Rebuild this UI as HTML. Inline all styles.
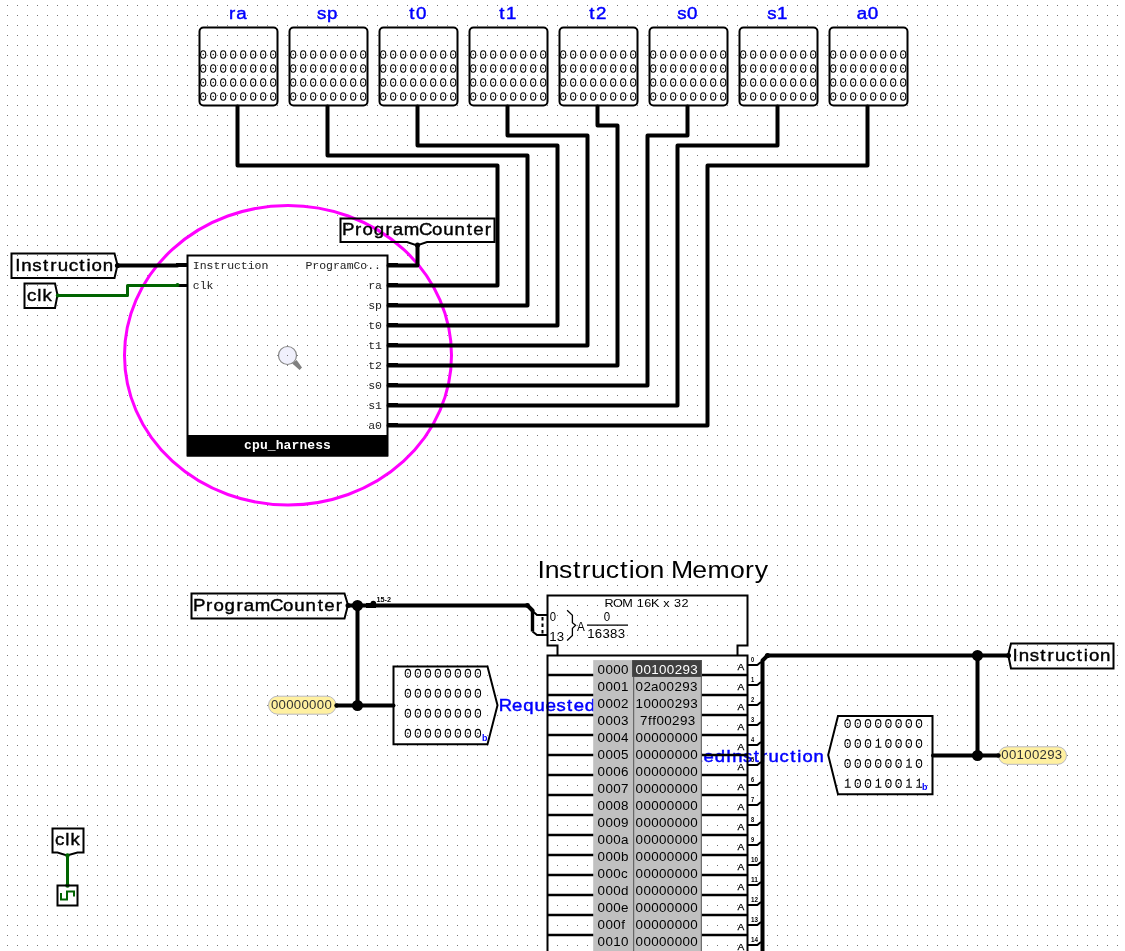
<!DOCTYPE html>
<html><head><meta charset="utf-8"><style>html,body{margin:0;padding:0;background:#fff;overflow:hidden;width:1125px;height:951px}</style></head>
<body><svg width="1125" height="951" viewBox="0 0 1125 951" style="display:block;will-change:transform">
<defs><pattern id="grid" x="7" y="5" width="10" height="10" patternUnits="userSpaceOnUse"><rect x="0" y="0" width="1" height="1" fill="#777"/></pattern></defs>
<rect width="1125" height="951" fill="#fff"/>
<rect width="1125" height="951" fill="url(#grid)"/>
<ellipse cx="288" cy="355.25" rx="163.5" ry="149.75" fill="none" stroke="#ff00ff" stroke-width="3"/>
<rect x="199.5" y="27.5" width="78" height="78" rx="4" ry="4" fill="none" stroke="#000" stroke-width="2"/>
<text transform="scale(1.1000,1)" x="208.17 214.77" y="19" font-family="'Liberation Sans', sans-serif" font-size="17" font-weight="normal" fill="#0000ff" stroke="#0000ff" stroke-width="0.45">ra</text>
<ellipse cx="203.2" cy="54.5" rx="2.6" ry="3.7" fill="none" stroke="#000" stroke-width="1.1"/>
<rect x="202.60" y="53.90" width="1.2" height="1.2" fill="#000"/>
<ellipse cx="213.2" cy="54.5" rx="2.6" ry="3.7" fill="none" stroke="#000" stroke-width="1.1"/>
<rect x="212.60" y="53.90" width="1.2" height="1.2" fill="#000"/>
<ellipse cx="223.2" cy="54.5" rx="2.6" ry="3.7" fill="none" stroke="#000" stroke-width="1.1"/>
<rect x="222.60" y="53.90" width="1.2" height="1.2" fill="#000"/>
<ellipse cx="233.2" cy="54.5" rx="2.6" ry="3.7" fill="none" stroke="#000" stroke-width="1.1"/>
<rect x="232.60" y="53.90" width="1.2" height="1.2" fill="#000"/>
<ellipse cx="243.2" cy="54.5" rx="2.6" ry="3.7" fill="none" stroke="#000" stroke-width="1.1"/>
<rect x="242.60" y="53.90" width="1.2" height="1.2" fill="#000"/>
<ellipse cx="253.2" cy="54.5" rx="2.6" ry="3.7" fill="none" stroke="#000" stroke-width="1.1"/>
<rect x="252.60" y="53.90" width="1.2" height="1.2" fill="#000"/>
<ellipse cx="263.2" cy="54.5" rx="2.6" ry="3.7" fill="none" stroke="#000" stroke-width="1.1"/>
<rect x="262.60" y="53.90" width="1.2" height="1.2" fill="#000"/>
<ellipse cx="273.2" cy="54.5" rx="2.6" ry="3.7" fill="none" stroke="#000" stroke-width="1.1"/>
<rect x="272.60" y="53.90" width="1.2" height="1.2" fill="#000"/>
<ellipse cx="203.2" cy="68.5" rx="2.6" ry="3.7" fill="none" stroke="#000" stroke-width="1.1"/>
<rect x="202.60" y="67.90" width="1.2" height="1.2" fill="#000"/>
<ellipse cx="213.2" cy="68.5" rx="2.6" ry="3.7" fill="none" stroke="#000" stroke-width="1.1"/>
<rect x="212.60" y="67.90" width="1.2" height="1.2" fill="#000"/>
<ellipse cx="223.2" cy="68.5" rx="2.6" ry="3.7" fill="none" stroke="#000" stroke-width="1.1"/>
<rect x="222.60" y="67.90" width="1.2" height="1.2" fill="#000"/>
<ellipse cx="233.2" cy="68.5" rx="2.6" ry="3.7" fill="none" stroke="#000" stroke-width="1.1"/>
<rect x="232.60" y="67.90" width="1.2" height="1.2" fill="#000"/>
<ellipse cx="243.2" cy="68.5" rx="2.6" ry="3.7" fill="none" stroke="#000" stroke-width="1.1"/>
<rect x="242.60" y="67.90" width="1.2" height="1.2" fill="#000"/>
<ellipse cx="253.2" cy="68.5" rx="2.6" ry="3.7" fill="none" stroke="#000" stroke-width="1.1"/>
<rect x="252.60" y="67.90" width="1.2" height="1.2" fill="#000"/>
<ellipse cx="263.2" cy="68.5" rx="2.6" ry="3.7" fill="none" stroke="#000" stroke-width="1.1"/>
<rect x="262.60" y="67.90" width="1.2" height="1.2" fill="#000"/>
<ellipse cx="273.2" cy="68.5" rx="2.6" ry="3.7" fill="none" stroke="#000" stroke-width="1.1"/>
<rect x="272.60" y="67.90" width="1.2" height="1.2" fill="#000"/>
<ellipse cx="203.2" cy="82.5" rx="2.6" ry="3.7" fill="none" stroke="#000" stroke-width="1.1"/>
<rect x="202.60" y="81.90" width="1.2" height="1.2" fill="#000"/>
<ellipse cx="213.2" cy="82.5" rx="2.6" ry="3.7" fill="none" stroke="#000" stroke-width="1.1"/>
<rect x="212.60" y="81.90" width="1.2" height="1.2" fill="#000"/>
<ellipse cx="223.2" cy="82.5" rx="2.6" ry="3.7" fill="none" stroke="#000" stroke-width="1.1"/>
<rect x="222.60" y="81.90" width="1.2" height="1.2" fill="#000"/>
<ellipse cx="233.2" cy="82.5" rx="2.6" ry="3.7" fill="none" stroke="#000" stroke-width="1.1"/>
<rect x="232.60" y="81.90" width="1.2" height="1.2" fill="#000"/>
<ellipse cx="243.2" cy="82.5" rx="2.6" ry="3.7" fill="none" stroke="#000" stroke-width="1.1"/>
<rect x="242.60" y="81.90" width="1.2" height="1.2" fill="#000"/>
<ellipse cx="253.2" cy="82.5" rx="2.6" ry="3.7" fill="none" stroke="#000" stroke-width="1.1"/>
<rect x="252.60" y="81.90" width="1.2" height="1.2" fill="#000"/>
<ellipse cx="263.2" cy="82.5" rx="2.6" ry="3.7" fill="none" stroke="#000" stroke-width="1.1"/>
<rect x="262.60" y="81.90" width="1.2" height="1.2" fill="#000"/>
<ellipse cx="273.2" cy="82.5" rx="2.6" ry="3.7" fill="none" stroke="#000" stroke-width="1.1"/>
<rect x="272.60" y="81.90" width="1.2" height="1.2" fill="#000"/>
<ellipse cx="203.2" cy="96.5" rx="2.6" ry="3.7" fill="none" stroke="#000" stroke-width="1.1"/>
<rect x="202.60" y="95.90" width="1.2" height="1.2" fill="#000"/>
<ellipse cx="213.2" cy="96.5" rx="2.6" ry="3.7" fill="none" stroke="#000" stroke-width="1.1"/>
<rect x="212.60" y="95.90" width="1.2" height="1.2" fill="#000"/>
<ellipse cx="223.2" cy="96.5" rx="2.6" ry="3.7" fill="none" stroke="#000" stroke-width="1.1"/>
<rect x="222.60" y="95.90" width="1.2" height="1.2" fill="#000"/>
<ellipse cx="233.2" cy="96.5" rx="2.6" ry="3.7" fill="none" stroke="#000" stroke-width="1.1"/>
<rect x="232.60" y="95.90" width="1.2" height="1.2" fill="#000"/>
<ellipse cx="243.2" cy="96.5" rx="2.6" ry="3.7" fill="none" stroke="#000" stroke-width="1.1"/>
<rect x="242.60" y="95.90" width="1.2" height="1.2" fill="#000"/>
<ellipse cx="253.2" cy="96.5" rx="2.6" ry="3.7" fill="none" stroke="#000" stroke-width="1.1"/>
<rect x="252.60" y="95.90" width="1.2" height="1.2" fill="#000"/>
<ellipse cx="263.2" cy="96.5" rx="2.6" ry="3.7" fill="none" stroke="#000" stroke-width="1.1"/>
<rect x="262.60" y="95.90" width="1.2" height="1.2" fill="#000"/>
<ellipse cx="273.2" cy="96.5" rx="2.6" ry="3.7" fill="none" stroke="#000" stroke-width="1.1"/>
<rect x="272.60" y="95.90" width="1.2" height="1.2" fill="#000"/>
<rect x="289.5" y="27.5" width="78" height="78" rx="4" ry="4" fill="none" stroke="#000" stroke-width="2"/>
<text transform="scale(1.1000,1)" x="288.27 297.33" y="19" font-family="'Liberation Sans', sans-serif" font-size="17" font-weight="normal" fill="#0000ff" stroke="#0000ff" stroke-width="0.45">sp</text>
<ellipse cx="293.2" cy="54.5" rx="2.6" ry="3.7" fill="none" stroke="#000" stroke-width="1.1"/>
<rect x="292.60" y="53.90" width="1.2" height="1.2" fill="#000"/>
<ellipse cx="303.2" cy="54.5" rx="2.6" ry="3.7" fill="none" stroke="#000" stroke-width="1.1"/>
<rect x="302.60" y="53.90" width="1.2" height="1.2" fill="#000"/>
<ellipse cx="313.2" cy="54.5" rx="2.6" ry="3.7" fill="none" stroke="#000" stroke-width="1.1"/>
<rect x="312.60" y="53.90" width="1.2" height="1.2" fill="#000"/>
<ellipse cx="323.2" cy="54.5" rx="2.6" ry="3.7" fill="none" stroke="#000" stroke-width="1.1"/>
<rect x="322.60" y="53.90" width="1.2" height="1.2" fill="#000"/>
<ellipse cx="333.2" cy="54.5" rx="2.6" ry="3.7" fill="none" stroke="#000" stroke-width="1.1"/>
<rect x="332.60" y="53.90" width="1.2" height="1.2" fill="#000"/>
<ellipse cx="343.2" cy="54.5" rx="2.6" ry="3.7" fill="none" stroke="#000" stroke-width="1.1"/>
<rect x="342.60" y="53.90" width="1.2" height="1.2" fill="#000"/>
<ellipse cx="353.2" cy="54.5" rx="2.6" ry="3.7" fill="none" stroke="#000" stroke-width="1.1"/>
<rect x="352.60" y="53.90" width="1.2" height="1.2" fill="#000"/>
<ellipse cx="363.2" cy="54.5" rx="2.6" ry="3.7" fill="none" stroke="#000" stroke-width="1.1"/>
<rect x="362.60" y="53.90" width="1.2" height="1.2" fill="#000"/>
<ellipse cx="293.2" cy="68.5" rx="2.6" ry="3.7" fill="none" stroke="#000" stroke-width="1.1"/>
<rect x="292.60" y="67.90" width="1.2" height="1.2" fill="#000"/>
<ellipse cx="303.2" cy="68.5" rx="2.6" ry="3.7" fill="none" stroke="#000" stroke-width="1.1"/>
<rect x="302.60" y="67.90" width="1.2" height="1.2" fill="#000"/>
<ellipse cx="313.2" cy="68.5" rx="2.6" ry="3.7" fill="none" stroke="#000" stroke-width="1.1"/>
<rect x="312.60" y="67.90" width="1.2" height="1.2" fill="#000"/>
<ellipse cx="323.2" cy="68.5" rx="2.6" ry="3.7" fill="none" stroke="#000" stroke-width="1.1"/>
<rect x="322.60" y="67.90" width="1.2" height="1.2" fill="#000"/>
<ellipse cx="333.2" cy="68.5" rx="2.6" ry="3.7" fill="none" stroke="#000" stroke-width="1.1"/>
<rect x="332.60" y="67.90" width="1.2" height="1.2" fill="#000"/>
<ellipse cx="343.2" cy="68.5" rx="2.6" ry="3.7" fill="none" stroke="#000" stroke-width="1.1"/>
<rect x="342.60" y="67.90" width="1.2" height="1.2" fill="#000"/>
<ellipse cx="353.2" cy="68.5" rx="2.6" ry="3.7" fill="none" stroke="#000" stroke-width="1.1"/>
<rect x="352.60" y="67.90" width="1.2" height="1.2" fill="#000"/>
<ellipse cx="363.2" cy="68.5" rx="2.6" ry="3.7" fill="none" stroke="#000" stroke-width="1.1"/>
<rect x="362.60" y="67.90" width="1.2" height="1.2" fill="#000"/>
<ellipse cx="293.2" cy="82.5" rx="2.6" ry="3.7" fill="none" stroke="#000" stroke-width="1.1"/>
<rect x="292.60" y="81.90" width="1.2" height="1.2" fill="#000"/>
<ellipse cx="303.2" cy="82.5" rx="2.6" ry="3.7" fill="none" stroke="#000" stroke-width="1.1"/>
<rect x="302.60" y="81.90" width="1.2" height="1.2" fill="#000"/>
<ellipse cx="313.2" cy="82.5" rx="2.6" ry="3.7" fill="none" stroke="#000" stroke-width="1.1"/>
<rect x="312.60" y="81.90" width="1.2" height="1.2" fill="#000"/>
<ellipse cx="323.2" cy="82.5" rx="2.6" ry="3.7" fill="none" stroke="#000" stroke-width="1.1"/>
<rect x="322.60" y="81.90" width="1.2" height="1.2" fill="#000"/>
<ellipse cx="333.2" cy="82.5" rx="2.6" ry="3.7" fill="none" stroke="#000" stroke-width="1.1"/>
<rect x="332.60" y="81.90" width="1.2" height="1.2" fill="#000"/>
<ellipse cx="343.2" cy="82.5" rx="2.6" ry="3.7" fill="none" stroke="#000" stroke-width="1.1"/>
<rect x="342.60" y="81.90" width="1.2" height="1.2" fill="#000"/>
<ellipse cx="353.2" cy="82.5" rx="2.6" ry="3.7" fill="none" stroke="#000" stroke-width="1.1"/>
<rect x="352.60" y="81.90" width="1.2" height="1.2" fill="#000"/>
<ellipse cx="363.2" cy="82.5" rx="2.6" ry="3.7" fill="none" stroke="#000" stroke-width="1.1"/>
<rect x="362.60" y="81.90" width="1.2" height="1.2" fill="#000"/>
<ellipse cx="293.2" cy="96.5" rx="2.6" ry="3.7" fill="none" stroke="#000" stroke-width="1.1"/>
<rect x="292.60" y="95.90" width="1.2" height="1.2" fill="#000"/>
<ellipse cx="303.2" cy="96.5" rx="2.6" ry="3.7" fill="none" stroke="#000" stroke-width="1.1"/>
<rect x="302.60" y="95.90" width="1.2" height="1.2" fill="#000"/>
<ellipse cx="313.2" cy="96.5" rx="2.6" ry="3.7" fill="none" stroke="#000" stroke-width="1.1"/>
<rect x="312.60" y="95.90" width="1.2" height="1.2" fill="#000"/>
<ellipse cx="323.2" cy="96.5" rx="2.6" ry="3.7" fill="none" stroke="#000" stroke-width="1.1"/>
<rect x="322.60" y="95.90" width="1.2" height="1.2" fill="#000"/>
<ellipse cx="333.2" cy="96.5" rx="2.6" ry="3.7" fill="none" stroke="#000" stroke-width="1.1"/>
<rect x="332.60" y="95.90" width="1.2" height="1.2" fill="#000"/>
<ellipse cx="343.2" cy="96.5" rx="2.6" ry="3.7" fill="none" stroke="#000" stroke-width="1.1"/>
<rect x="342.60" y="95.90" width="1.2" height="1.2" fill="#000"/>
<ellipse cx="353.2" cy="96.5" rx="2.6" ry="3.7" fill="none" stroke="#000" stroke-width="1.1"/>
<rect x="352.60" y="95.90" width="1.2" height="1.2" fill="#000"/>
<ellipse cx="363.2" cy="96.5" rx="2.6" ry="3.7" fill="none" stroke="#000" stroke-width="1.1"/>
<rect x="362.60" y="95.90" width="1.2" height="1.2" fill="#000"/>
<rect x="379.5" y="27.5" width="78" height="78" rx="4" ry="4" fill="none" stroke="#000" stroke-width="2"/>
<text transform="scale(1.1000,1)" x="372.12 378.29" y="19" font-family="'Liberation Sans', sans-serif" font-size="17" font-weight="normal" fill="#0000ff" stroke="#0000ff" stroke-width="0.45">t0</text>
<ellipse cx="383.2" cy="54.5" rx="2.6" ry="3.7" fill="none" stroke="#000" stroke-width="1.1"/>
<rect x="382.60" y="53.90" width="1.2" height="1.2" fill="#000"/>
<ellipse cx="393.2" cy="54.5" rx="2.6" ry="3.7" fill="none" stroke="#000" stroke-width="1.1"/>
<rect x="392.60" y="53.90" width="1.2" height="1.2" fill="#000"/>
<ellipse cx="403.2" cy="54.5" rx="2.6" ry="3.7" fill="none" stroke="#000" stroke-width="1.1"/>
<rect x="402.60" y="53.90" width="1.2" height="1.2" fill="#000"/>
<ellipse cx="413.2" cy="54.5" rx="2.6" ry="3.7" fill="none" stroke="#000" stroke-width="1.1"/>
<rect x="412.60" y="53.90" width="1.2" height="1.2" fill="#000"/>
<ellipse cx="423.2" cy="54.5" rx="2.6" ry="3.7" fill="none" stroke="#000" stroke-width="1.1"/>
<rect x="422.60" y="53.90" width="1.2" height="1.2" fill="#000"/>
<ellipse cx="433.2" cy="54.5" rx="2.6" ry="3.7" fill="none" stroke="#000" stroke-width="1.1"/>
<rect x="432.60" y="53.90" width="1.2" height="1.2" fill="#000"/>
<ellipse cx="443.2" cy="54.5" rx="2.6" ry="3.7" fill="none" stroke="#000" stroke-width="1.1"/>
<rect x="442.60" y="53.90" width="1.2" height="1.2" fill="#000"/>
<ellipse cx="453.2" cy="54.5" rx="2.6" ry="3.7" fill="none" stroke="#000" stroke-width="1.1"/>
<rect x="452.60" y="53.90" width="1.2" height="1.2" fill="#000"/>
<ellipse cx="383.2" cy="68.5" rx="2.6" ry="3.7" fill="none" stroke="#000" stroke-width="1.1"/>
<rect x="382.60" y="67.90" width="1.2" height="1.2" fill="#000"/>
<ellipse cx="393.2" cy="68.5" rx="2.6" ry="3.7" fill="none" stroke="#000" stroke-width="1.1"/>
<rect x="392.60" y="67.90" width="1.2" height="1.2" fill="#000"/>
<ellipse cx="403.2" cy="68.5" rx="2.6" ry="3.7" fill="none" stroke="#000" stroke-width="1.1"/>
<rect x="402.60" y="67.90" width="1.2" height="1.2" fill="#000"/>
<ellipse cx="413.2" cy="68.5" rx="2.6" ry="3.7" fill="none" stroke="#000" stroke-width="1.1"/>
<rect x="412.60" y="67.90" width="1.2" height="1.2" fill="#000"/>
<ellipse cx="423.2" cy="68.5" rx="2.6" ry="3.7" fill="none" stroke="#000" stroke-width="1.1"/>
<rect x="422.60" y="67.90" width="1.2" height="1.2" fill="#000"/>
<ellipse cx="433.2" cy="68.5" rx="2.6" ry="3.7" fill="none" stroke="#000" stroke-width="1.1"/>
<rect x="432.60" y="67.90" width="1.2" height="1.2" fill="#000"/>
<ellipse cx="443.2" cy="68.5" rx="2.6" ry="3.7" fill="none" stroke="#000" stroke-width="1.1"/>
<rect x="442.60" y="67.90" width="1.2" height="1.2" fill="#000"/>
<ellipse cx="453.2" cy="68.5" rx="2.6" ry="3.7" fill="none" stroke="#000" stroke-width="1.1"/>
<rect x="452.60" y="67.90" width="1.2" height="1.2" fill="#000"/>
<ellipse cx="383.2" cy="82.5" rx="2.6" ry="3.7" fill="none" stroke="#000" stroke-width="1.1"/>
<rect x="382.60" y="81.90" width="1.2" height="1.2" fill="#000"/>
<ellipse cx="393.2" cy="82.5" rx="2.6" ry="3.7" fill="none" stroke="#000" stroke-width="1.1"/>
<rect x="392.60" y="81.90" width="1.2" height="1.2" fill="#000"/>
<ellipse cx="403.2" cy="82.5" rx="2.6" ry="3.7" fill="none" stroke="#000" stroke-width="1.1"/>
<rect x="402.60" y="81.90" width="1.2" height="1.2" fill="#000"/>
<ellipse cx="413.2" cy="82.5" rx="2.6" ry="3.7" fill="none" stroke="#000" stroke-width="1.1"/>
<rect x="412.60" y="81.90" width="1.2" height="1.2" fill="#000"/>
<ellipse cx="423.2" cy="82.5" rx="2.6" ry="3.7" fill="none" stroke="#000" stroke-width="1.1"/>
<rect x="422.60" y="81.90" width="1.2" height="1.2" fill="#000"/>
<ellipse cx="433.2" cy="82.5" rx="2.6" ry="3.7" fill="none" stroke="#000" stroke-width="1.1"/>
<rect x="432.60" y="81.90" width="1.2" height="1.2" fill="#000"/>
<ellipse cx="443.2" cy="82.5" rx="2.6" ry="3.7" fill="none" stroke="#000" stroke-width="1.1"/>
<rect x="442.60" y="81.90" width="1.2" height="1.2" fill="#000"/>
<ellipse cx="453.2" cy="82.5" rx="2.6" ry="3.7" fill="none" stroke="#000" stroke-width="1.1"/>
<rect x="452.60" y="81.90" width="1.2" height="1.2" fill="#000"/>
<ellipse cx="383.2" cy="96.5" rx="2.6" ry="3.7" fill="none" stroke="#000" stroke-width="1.1"/>
<rect x="382.60" y="95.90" width="1.2" height="1.2" fill="#000"/>
<ellipse cx="393.2" cy="96.5" rx="2.6" ry="3.7" fill="none" stroke="#000" stroke-width="1.1"/>
<rect x="392.60" y="95.90" width="1.2" height="1.2" fill="#000"/>
<ellipse cx="403.2" cy="96.5" rx="2.6" ry="3.7" fill="none" stroke="#000" stroke-width="1.1"/>
<rect x="402.60" y="95.90" width="1.2" height="1.2" fill="#000"/>
<ellipse cx="413.2" cy="96.5" rx="2.6" ry="3.7" fill="none" stroke="#000" stroke-width="1.1"/>
<rect x="412.60" y="95.90" width="1.2" height="1.2" fill="#000"/>
<ellipse cx="423.2" cy="96.5" rx="2.6" ry="3.7" fill="none" stroke="#000" stroke-width="1.1"/>
<rect x="422.60" y="95.90" width="1.2" height="1.2" fill="#000"/>
<ellipse cx="433.2" cy="96.5" rx="2.6" ry="3.7" fill="none" stroke="#000" stroke-width="1.1"/>
<rect x="432.60" y="95.90" width="1.2" height="1.2" fill="#000"/>
<ellipse cx="443.2" cy="96.5" rx="2.6" ry="3.7" fill="none" stroke="#000" stroke-width="1.1"/>
<rect x="442.60" y="95.90" width="1.2" height="1.2" fill="#000"/>
<ellipse cx="453.2" cy="96.5" rx="2.6" ry="3.7" fill="none" stroke="#000" stroke-width="1.1"/>
<rect x="452.60" y="95.90" width="1.2" height="1.2" fill="#000"/>
<rect x="469.5" y="27.5" width="78" height="78" rx="4" ry="4" fill="none" stroke="#000" stroke-width="2"/>
<text transform="scale(1.1000,1)" x="453.94 460.11" y="19" font-family="'Liberation Sans', sans-serif" font-size="17" font-weight="normal" fill="#0000ff" stroke="#0000ff" stroke-width="0.45">t1</text>
<ellipse cx="473.2" cy="54.5" rx="2.6" ry="3.7" fill="none" stroke="#000" stroke-width="1.1"/>
<rect x="472.60" y="53.90" width="1.2" height="1.2" fill="#000"/>
<ellipse cx="483.2" cy="54.5" rx="2.6" ry="3.7" fill="none" stroke="#000" stroke-width="1.1"/>
<rect x="482.60" y="53.90" width="1.2" height="1.2" fill="#000"/>
<ellipse cx="493.2" cy="54.5" rx="2.6" ry="3.7" fill="none" stroke="#000" stroke-width="1.1"/>
<rect x="492.60" y="53.90" width="1.2" height="1.2" fill="#000"/>
<ellipse cx="503.2" cy="54.5" rx="2.6" ry="3.7" fill="none" stroke="#000" stroke-width="1.1"/>
<rect x="502.60" y="53.90" width="1.2" height="1.2" fill="#000"/>
<ellipse cx="513.2" cy="54.5" rx="2.6" ry="3.7" fill="none" stroke="#000" stroke-width="1.1"/>
<rect x="512.60" y="53.90" width="1.2" height="1.2" fill="#000"/>
<ellipse cx="523.2" cy="54.5" rx="2.6" ry="3.7" fill="none" stroke="#000" stroke-width="1.1"/>
<rect x="522.60" y="53.90" width="1.2" height="1.2" fill="#000"/>
<ellipse cx="533.2" cy="54.5" rx="2.6" ry="3.7" fill="none" stroke="#000" stroke-width="1.1"/>
<rect x="532.60" y="53.90" width="1.2" height="1.2" fill="#000"/>
<ellipse cx="543.2" cy="54.5" rx="2.6" ry="3.7" fill="none" stroke="#000" stroke-width="1.1"/>
<rect x="542.60" y="53.90" width="1.2" height="1.2" fill="#000"/>
<ellipse cx="473.2" cy="68.5" rx="2.6" ry="3.7" fill="none" stroke="#000" stroke-width="1.1"/>
<rect x="472.60" y="67.90" width="1.2" height="1.2" fill="#000"/>
<ellipse cx="483.2" cy="68.5" rx="2.6" ry="3.7" fill="none" stroke="#000" stroke-width="1.1"/>
<rect x="482.60" y="67.90" width="1.2" height="1.2" fill="#000"/>
<ellipse cx="493.2" cy="68.5" rx="2.6" ry="3.7" fill="none" stroke="#000" stroke-width="1.1"/>
<rect x="492.60" y="67.90" width="1.2" height="1.2" fill="#000"/>
<ellipse cx="503.2" cy="68.5" rx="2.6" ry="3.7" fill="none" stroke="#000" stroke-width="1.1"/>
<rect x="502.60" y="67.90" width="1.2" height="1.2" fill="#000"/>
<ellipse cx="513.2" cy="68.5" rx="2.6" ry="3.7" fill="none" stroke="#000" stroke-width="1.1"/>
<rect x="512.60" y="67.90" width="1.2" height="1.2" fill="#000"/>
<ellipse cx="523.2" cy="68.5" rx="2.6" ry="3.7" fill="none" stroke="#000" stroke-width="1.1"/>
<rect x="522.60" y="67.90" width="1.2" height="1.2" fill="#000"/>
<ellipse cx="533.2" cy="68.5" rx="2.6" ry="3.7" fill="none" stroke="#000" stroke-width="1.1"/>
<rect x="532.60" y="67.90" width="1.2" height="1.2" fill="#000"/>
<ellipse cx="543.2" cy="68.5" rx="2.6" ry="3.7" fill="none" stroke="#000" stroke-width="1.1"/>
<rect x="542.60" y="67.90" width="1.2" height="1.2" fill="#000"/>
<ellipse cx="473.2" cy="82.5" rx="2.6" ry="3.7" fill="none" stroke="#000" stroke-width="1.1"/>
<rect x="472.60" y="81.90" width="1.2" height="1.2" fill="#000"/>
<ellipse cx="483.2" cy="82.5" rx="2.6" ry="3.7" fill="none" stroke="#000" stroke-width="1.1"/>
<rect x="482.60" y="81.90" width="1.2" height="1.2" fill="#000"/>
<ellipse cx="493.2" cy="82.5" rx="2.6" ry="3.7" fill="none" stroke="#000" stroke-width="1.1"/>
<rect x="492.60" y="81.90" width="1.2" height="1.2" fill="#000"/>
<ellipse cx="503.2" cy="82.5" rx="2.6" ry="3.7" fill="none" stroke="#000" stroke-width="1.1"/>
<rect x="502.60" y="81.90" width="1.2" height="1.2" fill="#000"/>
<ellipse cx="513.2" cy="82.5" rx="2.6" ry="3.7" fill="none" stroke="#000" stroke-width="1.1"/>
<rect x="512.60" y="81.90" width="1.2" height="1.2" fill="#000"/>
<ellipse cx="523.2" cy="82.5" rx="2.6" ry="3.7" fill="none" stroke="#000" stroke-width="1.1"/>
<rect x="522.60" y="81.90" width="1.2" height="1.2" fill="#000"/>
<ellipse cx="533.2" cy="82.5" rx="2.6" ry="3.7" fill="none" stroke="#000" stroke-width="1.1"/>
<rect x="532.60" y="81.90" width="1.2" height="1.2" fill="#000"/>
<ellipse cx="543.2" cy="82.5" rx="2.6" ry="3.7" fill="none" stroke="#000" stroke-width="1.1"/>
<rect x="542.60" y="81.90" width="1.2" height="1.2" fill="#000"/>
<ellipse cx="473.2" cy="96.5" rx="2.6" ry="3.7" fill="none" stroke="#000" stroke-width="1.1"/>
<rect x="472.60" y="95.90" width="1.2" height="1.2" fill="#000"/>
<ellipse cx="483.2" cy="96.5" rx="2.6" ry="3.7" fill="none" stroke="#000" stroke-width="1.1"/>
<rect x="482.60" y="95.90" width="1.2" height="1.2" fill="#000"/>
<ellipse cx="493.2" cy="96.5" rx="2.6" ry="3.7" fill="none" stroke="#000" stroke-width="1.1"/>
<rect x="492.60" y="95.90" width="1.2" height="1.2" fill="#000"/>
<ellipse cx="503.2" cy="96.5" rx="2.6" ry="3.7" fill="none" stroke="#000" stroke-width="1.1"/>
<rect x="502.60" y="95.90" width="1.2" height="1.2" fill="#000"/>
<ellipse cx="513.2" cy="96.5" rx="2.6" ry="3.7" fill="none" stroke="#000" stroke-width="1.1"/>
<rect x="512.60" y="95.90" width="1.2" height="1.2" fill="#000"/>
<ellipse cx="523.2" cy="96.5" rx="2.6" ry="3.7" fill="none" stroke="#000" stroke-width="1.1"/>
<rect x="522.60" y="95.90" width="1.2" height="1.2" fill="#000"/>
<ellipse cx="533.2" cy="96.5" rx="2.6" ry="3.7" fill="none" stroke="#000" stroke-width="1.1"/>
<rect x="532.60" y="95.90" width="1.2" height="1.2" fill="#000"/>
<ellipse cx="543.2" cy="96.5" rx="2.6" ry="3.7" fill="none" stroke="#000" stroke-width="1.1"/>
<rect x="542.60" y="95.90" width="1.2" height="1.2" fill="#000"/>
<rect x="559.5" y="27.5" width="78" height="78" rx="4" ry="4" fill="none" stroke="#000" stroke-width="2"/>
<text transform="scale(1.1000,1)" x="535.76 541.93" y="19" font-family="'Liberation Sans', sans-serif" font-size="17" font-weight="normal" fill="#0000ff" stroke="#0000ff" stroke-width="0.45">t2</text>
<ellipse cx="563.2" cy="54.5" rx="2.6" ry="3.7" fill="none" stroke="#000" stroke-width="1.1"/>
<rect x="562.60" y="53.90" width="1.2" height="1.2" fill="#000"/>
<ellipse cx="573.2" cy="54.5" rx="2.6" ry="3.7" fill="none" stroke="#000" stroke-width="1.1"/>
<rect x="572.60" y="53.90" width="1.2" height="1.2" fill="#000"/>
<ellipse cx="583.2" cy="54.5" rx="2.6" ry="3.7" fill="none" stroke="#000" stroke-width="1.1"/>
<rect x="582.60" y="53.90" width="1.2" height="1.2" fill="#000"/>
<ellipse cx="593.2" cy="54.5" rx="2.6" ry="3.7" fill="none" stroke="#000" stroke-width="1.1"/>
<rect x="592.60" y="53.90" width="1.2" height="1.2" fill="#000"/>
<ellipse cx="603.2" cy="54.5" rx="2.6" ry="3.7" fill="none" stroke="#000" stroke-width="1.1"/>
<rect x="602.60" y="53.90" width="1.2" height="1.2" fill="#000"/>
<ellipse cx="613.2" cy="54.5" rx="2.6" ry="3.7" fill="none" stroke="#000" stroke-width="1.1"/>
<rect x="612.60" y="53.90" width="1.2" height="1.2" fill="#000"/>
<ellipse cx="623.2" cy="54.5" rx="2.6" ry="3.7" fill="none" stroke="#000" stroke-width="1.1"/>
<rect x="622.60" y="53.90" width="1.2" height="1.2" fill="#000"/>
<ellipse cx="633.2" cy="54.5" rx="2.6" ry="3.7" fill="none" stroke="#000" stroke-width="1.1"/>
<rect x="632.60" y="53.90" width="1.2" height="1.2" fill="#000"/>
<ellipse cx="563.2" cy="68.5" rx="2.6" ry="3.7" fill="none" stroke="#000" stroke-width="1.1"/>
<rect x="562.60" y="67.90" width="1.2" height="1.2" fill="#000"/>
<ellipse cx="573.2" cy="68.5" rx="2.6" ry="3.7" fill="none" stroke="#000" stroke-width="1.1"/>
<rect x="572.60" y="67.90" width="1.2" height="1.2" fill="#000"/>
<ellipse cx="583.2" cy="68.5" rx="2.6" ry="3.7" fill="none" stroke="#000" stroke-width="1.1"/>
<rect x="582.60" y="67.90" width="1.2" height="1.2" fill="#000"/>
<ellipse cx="593.2" cy="68.5" rx="2.6" ry="3.7" fill="none" stroke="#000" stroke-width="1.1"/>
<rect x="592.60" y="67.90" width="1.2" height="1.2" fill="#000"/>
<ellipse cx="603.2" cy="68.5" rx="2.6" ry="3.7" fill="none" stroke="#000" stroke-width="1.1"/>
<rect x="602.60" y="67.90" width="1.2" height="1.2" fill="#000"/>
<ellipse cx="613.2" cy="68.5" rx="2.6" ry="3.7" fill="none" stroke="#000" stroke-width="1.1"/>
<rect x="612.60" y="67.90" width="1.2" height="1.2" fill="#000"/>
<ellipse cx="623.2" cy="68.5" rx="2.6" ry="3.7" fill="none" stroke="#000" stroke-width="1.1"/>
<rect x="622.60" y="67.90" width="1.2" height="1.2" fill="#000"/>
<ellipse cx="633.2" cy="68.5" rx="2.6" ry="3.7" fill="none" stroke="#000" stroke-width="1.1"/>
<rect x="632.60" y="67.90" width="1.2" height="1.2" fill="#000"/>
<ellipse cx="563.2" cy="82.5" rx="2.6" ry="3.7" fill="none" stroke="#000" stroke-width="1.1"/>
<rect x="562.60" y="81.90" width="1.2" height="1.2" fill="#000"/>
<ellipse cx="573.2" cy="82.5" rx="2.6" ry="3.7" fill="none" stroke="#000" stroke-width="1.1"/>
<rect x="572.60" y="81.90" width="1.2" height="1.2" fill="#000"/>
<ellipse cx="583.2" cy="82.5" rx="2.6" ry="3.7" fill="none" stroke="#000" stroke-width="1.1"/>
<rect x="582.60" y="81.90" width="1.2" height="1.2" fill="#000"/>
<ellipse cx="593.2" cy="82.5" rx="2.6" ry="3.7" fill="none" stroke="#000" stroke-width="1.1"/>
<rect x="592.60" y="81.90" width="1.2" height="1.2" fill="#000"/>
<ellipse cx="603.2" cy="82.5" rx="2.6" ry="3.7" fill="none" stroke="#000" stroke-width="1.1"/>
<rect x="602.60" y="81.90" width="1.2" height="1.2" fill="#000"/>
<ellipse cx="613.2" cy="82.5" rx="2.6" ry="3.7" fill="none" stroke="#000" stroke-width="1.1"/>
<rect x="612.60" y="81.90" width="1.2" height="1.2" fill="#000"/>
<ellipse cx="623.2" cy="82.5" rx="2.6" ry="3.7" fill="none" stroke="#000" stroke-width="1.1"/>
<rect x="622.60" y="81.90" width="1.2" height="1.2" fill="#000"/>
<ellipse cx="633.2" cy="82.5" rx="2.6" ry="3.7" fill="none" stroke="#000" stroke-width="1.1"/>
<rect x="632.60" y="81.90" width="1.2" height="1.2" fill="#000"/>
<ellipse cx="563.2" cy="96.5" rx="2.6" ry="3.7" fill="none" stroke="#000" stroke-width="1.1"/>
<rect x="562.60" y="95.90" width="1.2" height="1.2" fill="#000"/>
<ellipse cx="573.2" cy="96.5" rx="2.6" ry="3.7" fill="none" stroke="#000" stroke-width="1.1"/>
<rect x="572.60" y="95.90" width="1.2" height="1.2" fill="#000"/>
<ellipse cx="583.2" cy="96.5" rx="2.6" ry="3.7" fill="none" stroke="#000" stroke-width="1.1"/>
<rect x="582.60" y="95.90" width="1.2" height="1.2" fill="#000"/>
<ellipse cx="593.2" cy="96.5" rx="2.6" ry="3.7" fill="none" stroke="#000" stroke-width="1.1"/>
<rect x="592.60" y="95.90" width="1.2" height="1.2" fill="#000"/>
<ellipse cx="603.2" cy="96.5" rx="2.6" ry="3.7" fill="none" stroke="#000" stroke-width="1.1"/>
<rect x="602.60" y="95.90" width="1.2" height="1.2" fill="#000"/>
<ellipse cx="613.2" cy="96.5" rx="2.6" ry="3.7" fill="none" stroke="#000" stroke-width="1.1"/>
<rect x="612.60" y="95.90" width="1.2" height="1.2" fill="#000"/>
<ellipse cx="623.2" cy="96.5" rx="2.6" ry="3.7" fill="none" stroke="#000" stroke-width="1.1"/>
<rect x="622.60" y="95.90" width="1.2" height="1.2" fill="#000"/>
<ellipse cx="633.2" cy="96.5" rx="2.6" ry="3.7" fill="none" stroke="#000" stroke-width="1.1"/>
<rect x="632.60" y="95.90" width="1.2" height="1.2" fill="#000"/>
<rect x="649.5" y="27.5" width="78" height="78" rx="4" ry="4" fill="none" stroke="#000" stroke-width="2"/>
<text transform="scale(1.1000,1)" x="615.69 624.6" y="19" font-family="'Liberation Sans', sans-serif" font-size="17" font-weight="normal" fill="#0000ff" stroke="#0000ff" stroke-width="0.45">s0</text>
<ellipse cx="653.2" cy="54.5" rx="2.6" ry="3.7" fill="none" stroke="#000" stroke-width="1.1"/>
<rect x="652.60" y="53.90" width="1.2" height="1.2" fill="#000"/>
<ellipse cx="663.2" cy="54.5" rx="2.6" ry="3.7" fill="none" stroke="#000" stroke-width="1.1"/>
<rect x="662.60" y="53.90" width="1.2" height="1.2" fill="#000"/>
<ellipse cx="673.2" cy="54.5" rx="2.6" ry="3.7" fill="none" stroke="#000" stroke-width="1.1"/>
<rect x="672.60" y="53.90" width="1.2" height="1.2" fill="#000"/>
<ellipse cx="683.2" cy="54.5" rx="2.6" ry="3.7" fill="none" stroke="#000" stroke-width="1.1"/>
<rect x="682.60" y="53.90" width="1.2" height="1.2" fill="#000"/>
<ellipse cx="693.2" cy="54.5" rx="2.6" ry="3.7" fill="none" stroke="#000" stroke-width="1.1"/>
<rect x="692.60" y="53.90" width="1.2" height="1.2" fill="#000"/>
<ellipse cx="703.2" cy="54.5" rx="2.6" ry="3.7" fill="none" stroke="#000" stroke-width="1.1"/>
<rect x="702.60" y="53.90" width="1.2" height="1.2" fill="#000"/>
<ellipse cx="713.2" cy="54.5" rx="2.6" ry="3.7" fill="none" stroke="#000" stroke-width="1.1"/>
<rect x="712.60" y="53.90" width="1.2" height="1.2" fill="#000"/>
<ellipse cx="723.2" cy="54.5" rx="2.6" ry="3.7" fill="none" stroke="#000" stroke-width="1.1"/>
<rect x="722.60" y="53.90" width="1.2" height="1.2" fill="#000"/>
<ellipse cx="653.2" cy="68.5" rx="2.6" ry="3.7" fill="none" stroke="#000" stroke-width="1.1"/>
<rect x="652.60" y="67.90" width="1.2" height="1.2" fill="#000"/>
<ellipse cx="663.2" cy="68.5" rx="2.6" ry="3.7" fill="none" stroke="#000" stroke-width="1.1"/>
<rect x="662.60" y="67.90" width="1.2" height="1.2" fill="#000"/>
<ellipse cx="673.2" cy="68.5" rx="2.6" ry="3.7" fill="none" stroke="#000" stroke-width="1.1"/>
<rect x="672.60" y="67.90" width="1.2" height="1.2" fill="#000"/>
<ellipse cx="683.2" cy="68.5" rx="2.6" ry="3.7" fill="none" stroke="#000" stroke-width="1.1"/>
<rect x="682.60" y="67.90" width="1.2" height="1.2" fill="#000"/>
<ellipse cx="693.2" cy="68.5" rx="2.6" ry="3.7" fill="none" stroke="#000" stroke-width="1.1"/>
<rect x="692.60" y="67.90" width="1.2" height="1.2" fill="#000"/>
<ellipse cx="703.2" cy="68.5" rx="2.6" ry="3.7" fill="none" stroke="#000" stroke-width="1.1"/>
<rect x="702.60" y="67.90" width="1.2" height="1.2" fill="#000"/>
<ellipse cx="713.2" cy="68.5" rx="2.6" ry="3.7" fill="none" stroke="#000" stroke-width="1.1"/>
<rect x="712.60" y="67.90" width="1.2" height="1.2" fill="#000"/>
<ellipse cx="723.2" cy="68.5" rx="2.6" ry="3.7" fill="none" stroke="#000" stroke-width="1.1"/>
<rect x="722.60" y="67.90" width="1.2" height="1.2" fill="#000"/>
<ellipse cx="653.2" cy="82.5" rx="2.6" ry="3.7" fill="none" stroke="#000" stroke-width="1.1"/>
<rect x="652.60" y="81.90" width="1.2" height="1.2" fill="#000"/>
<ellipse cx="663.2" cy="82.5" rx="2.6" ry="3.7" fill="none" stroke="#000" stroke-width="1.1"/>
<rect x="662.60" y="81.90" width="1.2" height="1.2" fill="#000"/>
<ellipse cx="673.2" cy="82.5" rx="2.6" ry="3.7" fill="none" stroke="#000" stroke-width="1.1"/>
<rect x="672.60" y="81.90" width="1.2" height="1.2" fill="#000"/>
<ellipse cx="683.2" cy="82.5" rx="2.6" ry="3.7" fill="none" stroke="#000" stroke-width="1.1"/>
<rect x="682.60" y="81.90" width="1.2" height="1.2" fill="#000"/>
<ellipse cx="693.2" cy="82.5" rx="2.6" ry="3.7" fill="none" stroke="#000" stroke-width="1.1"/>
<rect x="692.60" y="81.90" width="1.2" height="1.2" fill="#000"/>
<ellipse cx="703.2" cy="82.5" rx="2.6" ry="3.7" fill="none" stroke="#000" stroke-width="1.1"/>
<rect x="702.60" y="81.90" width="1.2" height="1.2" fill="#000"/>
<ellipse cx="713.2" cy="82.5" rx="2.6" ry="3.7" fill="none" stroke="#000" stroke-width="1.1"/>
<rect x="712.60" y="81.90" width="1.2" height="1.2" fill="#000"/>
<ellipse cx="723.2" cy="82.5" rx="2.6" ry="3.7" fill="none" stroke="#000" stroke-width="1.1"/>
<rect x="722.60" y="81.90" width="1.2" height="1.2" fill="#000"/>
<ellipse cx="653.2" cy="96.5" rx="2.6" ry="3.7" fill="none" stroke="#000" stroke-width="1.1"/>
<rect x="652.60" y="95.90" width="1.2" height="1.2" fill="#000"/>
<ellipse cx="663.2" cy="96.5" rx="2.6" ry="3.7" fill="none" stroke="#000" stroke-width="1.1"/>
<rect x="662.60" y="95.90" width="1.2" height="1.2" fill="#000"/>
<ellipse cx="673.2" cy="96.5" rx="2.6" ry="3.7" fill="none" stroke="#000" stroke-width="1.1"/>
<rect x="672.60" y="95.90" width="1.2" height="1.2" fill="#000"/>
<ellipse cx="683.2" cy="96.5" rx="2.6" ry="3.7" fill="none" stroke="#000" stroke-width="1.1"/>
<rect x="682.60" y="95.90" width="1.2" height="1.2" fill="#000"/>
<ellipse cx="693.2" cy="96.5" rx="2.6" ry="3.7" fill="none" stroke="#000" stroke-width="1.1"/>
<rect x="692.60" y="95.90" width="1.2" height="1.2" fill="#000"/>
<ellipse cx="703.2" cy="96.5" rx="2.6" ry="3.7" fill="none" stroke="#000" stroke-width="1.1"/>
<rect x="702.60" y="95.90" width="1.2" height="1.2" fill="#000"/>
<ellipse cx="713.2" cy="96.5" rx="2.6" ry="3.7" fill="none" stroke="#000" stroke-width="1.1"/>
<rect x="712.60" y="95.90" width="1.2" height="1.2" fill="#000"/>
<ellipse cx="723.2" cy="96.5" rx="2.6" ry="3.7" fill="none" stroke="#000" stroke-width="1.1"/>
<rect x="722.60" y="95.90" width="1.2" height="1.2" fill="#000"/>
<rect x="739.5" y="27.5" width="78" height="78" rx="4" ry="4" fill="none" stroke="#000" stroke-width="2"/>
<text transform="scale(1.1000,1)" x="697.51 706.42" y="19" font-family="'Liberation Sans', sans-serif" font-size="17" font-weight="normal" fill="#0000ff" stroke="#0000ff" stroke-width="0.45">s1</text>
<ellipse cx="743.2" cy="54.5" rx="2.6" ry="3.7" fill="none" stroke="#000" stroke-width="1.1"/>
<rect x="742.60" y="53.90" width="1.2" height="1.2" fill="#000"/>
<ellipse cx="753.2" cy="54.5" rx="2.6" ry="3.7" fill="none" stroke="#000" stroke-width="1.1"/>
<rect x="752.60" y="53.90" width="1.2" height="1.2" fill="#000"/>
<ellipse cx="763.2" cy="54.5" rx="2.6" ry="3.7" fill="none" stroke="#000" stroke-width="1.1"/>
<rect x="762.60" y="53.90" width="1.2" height="1.2" fill="#000"/>
<ellipse cx="773.2" cy="54.5" rx="2.6" ry="3.7" fill="none" stroke="#000" stroke-width="1.1"/>
<rect x="772.60" y="53.90" width="1.2" height="1.2" fill="#000"/>
<ellipse cx="783.2" cy="54.5" rx="2.6" ry="3.7" fill="none" stroke="#000" stroke-width="1.1"/>
<rect x="782.60" y="53.90" width="1.2" height="1.2" fill="#000"/>
<ellipse cx="793.2" cy="54.5" rx="2.6" ry="3.7" fill="none" stroke="#000" stroke-width="1.1"/>
<rect x="792.60" y="53.90" width="1.2" height="1.2" fill="#000"/>
<ellipse cx="803.2" cy="54.5" rx="2.6" ry="3.7" fill="none" stroke="#000" stroke-width="1.1"/>
<rect x="802.60" y="53.90" width="1.2" height="1.2" fill="#000"/>
<ellipse cx="813.2" cy="54.5" rx="2.6" ry="3.7" fill="none" stroke="#000" stroke-width="1.1"/>
<rect x="812.60" y="53.90" width="1.2" height="1.2" fill="#000"/>
<ellipse cx="743.2" cy="68.5" rx="2.6" ry="3.7" fill="none" stroke="#000" stroke-width="1.1"/>
<rect x="742.60" y="67.90" width="1.2" height="1.2" fill="#000"/>
<ellipse cx="753.2" cy="68.5" rx="2.6" ry="3.7" fill="none" stroke="#000" stroke-width="1.1"/>
<rect x="752.60" y="67.90" width="1.2" height="1.2" fill="#000"/>
<ellipse cx="763.2" cy="68.5" rx="2.6" ry="3.7" fill="none" stroke="#000" stroke-width="1.1"/>
<rect x="762.60" y="67.90" width="1.2" height="1.2" fill="#000"/>
<ellipse cx="773.2" cy="68.5" rx="2.6" ry="3.7" fill="none" stroke="#000" stroke-width="1.1"/>
<rect x="772.60" y="67.90" width="1.2" height="1.2" fill="#000"/>
<ellipse cx="783.2" cy="68.5" rx="2.6" ry="3.7" fill="none" stroke="#000" stroke-width="1.1"/>
<rect x="782.60" y="67.90" width="1.2" height="1.2" fill="#000"/>
<ellipse cx="793.2" cy="68.5" rx="2.6" ry="3.7" fill="none" stroke="#000" stroke-width="1.1"/>
<rect x="792.60" y="67.90" width="1.2" height="1.2" fill="#000"/>
<ellipse cx="803.2" cy="68.5" rx="2.6" ry="3.7" fill="none" stroke="#000" stroke-width="1.1"/>
<rect x="802.60" y="67.90" width="1.2" height="1.2" fill="#000"/>
<ellipse cx="813.2" cy="68.5" rx="2.6" ry="3.7" fill="none" stroke="#000" stroke-width="1.1"/>
<rect x="812.60" y="67.90" width="1.2" height="1.2" fill="#000"/>
<ellipse cx="743.2" cy="82.5" rx="2.6" ry="3.7" fill="none" stroke="#000" stroke-width="1.1"/>
<rect x="742.60" y="81.90" width="1.2" height="1.2" fill="#000"/>
<ellipse cx="753.2" cy="82.5" rx="2.6" ry="3.7" fill="none" stroke="#000" stroke-width="1.1"/>
<rect x="752.60" y="81.90" width="1.2" height="1.2" fill="#000"/>
<ellipse cx="763.2" cy="82.5" rx="2.6" ry="3.7" fill="none" stroke="#000" stroke-width="1.1"/>
<rect x="762.60" y="81.90" width="1.2" height="1.2" fill="#000"/>
<ellipse cx="773.2" cy="82.5" rx="2.6" ry="3.7" fill="none" stroke="#000" stroke-width="1.1"/>
<rect x="772.60" y="81.90" width="1.2" height="1.2" fill="#000"/>
<ellipse cx="783.2" cy="82.5" rx="2.6" ry="3.7" fill="none" stroke="#000" stroke-width="1.1"/>
<rect x="782.60" y="81.90" width="1.2" height="1.2" fill="#000"/>
<ellipse cx="793.2" cy="82.5" rx="2.6" ry="3.7" fill="none" stroke="#000" stroke-width="1.1"/>
<rect x="792.60" y="81.90" width="1.2" height="1.2" fill="#000"/>
<ellipse cx="803.2" cy="82.5" rx="2.6" ry="3.7" fill="none" stroke="#000" stroke-width="1.1"/>
<rect x="802.60" y="81.90" width="1.2" height="1.2" fill="#000"/>
<ellipse cx="813.2" cy="82.5" rx="2.6" ry="3.7" fill="none" stroke="#000" stroke-width="1.1"/>
<rect x="812.60" y="81.90" width="1.2" height="1.2" fill="#000"/>
<ellipse cx="743.2" cy="96.5" rx="2.6" ry="3.7" fill="none" stroke="#000" stroke-width="1.1"/>
<rect x="742.60" y="95.90" width="1.2" height="1.2" fill="#000"/>
<ellipse cx="753.2" cy="96.5" rx="2.6" ry="3.7" fill="none" stroke="#000" stroke-width="1.1"/>
<rect x="752.60" y="95.90" width="1.2" height="1.2" fill="#000"/>
<ellipse cx="763.2" cy="96.5" rx="2.6" ry="3.7" fill="none" stroke="#000" stroke-width="1.1"/>
<rect x="762.60" y="95.90" width="1.2" height="1.2" fill="#000"/>
<ellipse cx="773.2" cy="96.5" rx="2.6" ry="3.7" fill="none" stroke="#000" stroke-width="1.1"/>
<rect x="772.60" y="95.90" width="1.2" height="1.2" fill="#000"/>
<ellipse cx="783.2" cy="96.5" rx="2.6" ry="3.7" fill="none" stroke="#000" stroke-width="1.1"/>
<rect x="782.60" y="95.90" width="1.2" height="1.2" fill="#000"/>
<ellipse cx="793.2" cy="96.5" rx="2.6" ry="3.7" fill="none" stroke="#000" stroke-width="1.1"/>
<rect x="792.60" y="95.90" width="1.2" height="1.2" fill="#000"/>
<ellipse cx="803.2" cy="96.5" rx="2.6" ry="3.7" fill="none" stroke="#000" stroke-width="1.1"/>
<rect x="802.60" y="95.90" width="1.2" height="1.2" fill="#000"/>
<ellipse cx="813.2" cy="96.5" rx="2.6" ry="3.7" fill="none" stroke="#000" stroke-width="1.1"/>
<rect x="812.60" y="95.90" width="1.2" height="1.2" fill="#000"/>
<rect x="829.5" y="27.5" width="78" height="78" rx="4" ry="4" fill="none" stroke="#000" stroke-width="2"/>
<text transform="scale(1.1000,1)" x="778.85 788.82" y="19" font-family="'Liberation Sans', sans-serif" font-size="17" font-weight="normal" fill="#0000ff" stroke="#0000ff" stroke-width="0.45">a0</text>
<ellipse cx="833.2" cy="54.5" rx="2.6" ry="3.7" fill="none" stroke="#000" stroke-width="1.1"/>
<rect x="832.60" y="53.90" width="1.2" height="1.2" fill="#000"/>
<ellipse cx="843.2" cy="54.5" rx="2.6" ry="3.7" fill="none" stroke="#000" stroke-width="1.1"/>
<rect x="842.60" y="53.90" width="1.2" height="1.2" fill="#000"/>
<ellipse cx="853.2" cy="54.5" rx="2.6" ry="3.7" fill="none" stroke="#000" stroke-width="1.1"/>
<rect x="852.60" y="53.90" width="1.2" height="1.2" fill="#000"/>
<ellipse cx="863.2" cy="54.5" rx="2.6" ry="3.7" fill="none" stroke="#000" stroke-width="1.1"/>
<rect x="862.60" y="53.90" width="1.2" height="1.2" fill="#000"/>
<ellipse cx="873.2" cy="54.5" rx="2.6" ry="3.7" fill="none" stroke="#000" stroke-width="1.1"/>
<rect x="872.60" y="53.90" width="1.2" height="1.2" fill="#000"/>
<ellipse cx="883.2" cy="54.5" rx="2.6" ry="3.7" fill="none" stroke="#000" stroke-width="1.1"/>
<rect x="882.60" y="53.90" width="1.2" height="1.2" fill="#000"/>
<ellipse cx="893.2" cy="54.5" rx="2.6" ry="3.7" fill="none" stroke="#000" stroke-width="1.1"/>
<rect x="892.60" y="53.90" width="1.2" height="1.2" fill="#000"/>
<ellipse cx="903.2" cy="54.5" rx="2.6" ry="3.7" fill="none" stroke="#000" stroke-width="1.1"/>
<rect x="902.60" y="53.90" width="1.2" height="1.2" fill="#000"/>
<ellipse cx="833.2" cy="68.5" rx="2.6" ry="3.7" fill="none" stroke="#000" stroke-width="1.1"/>
<rect x="832.60" y="67.90" width="1.2" height="1.2" fill="#000"/>
<ellipse cx="843.2" cy="68.5" rx="2.6" ry="3.7" fill="none" stroke="#000" stroke-width="1.1"/>
<rect x="842.60" y="67.90" width="1.2" height="1.2" fill="#000"/>
<ellipse cx="853.2" cy="68.5" rx="2.6" ry="3.7" fill="none" stroke="#000" stroke-width="1.1"/>
<rect x="852.60" y="67.90" width="1.2" height="1.2" fill="#000"/>
<ellipse cx="863.2" cy="68.5" rx="2.6" ry="3.7" fill="none" stroke="#000" stroke-width="1.1"/>
<rect x="862.60" y="67.90" width="1.2" height="1.2" fill="#000"/>
<ellipse cx="873.2" cy="68.5" rx="2.6" ry="3.7" fill="none" stroke="#000" stroke-width="1.1"/>
<rect x="872.60" y="67.90" width="1.2" height="1.2" fill="#000"/>
<ellipse cx="883.2" cy="68.5" rx="2.6" ry="3.7" fill="none" stroke="#000" stroke-width="1.1"/>
<rect x="882.60" y="67.90" width="1.2" height="1.2" fill="#000"/>
<ellipse cx="893.2" cy="68.5" rx="2.6" ry="3.7" fill="none" stroke="#000" stroke-width="1.1"/>
<rect x="892.60" y="67.90" width="1.2" height="1.2" fill="#000"/>
<ellipse cx="903.2" cy="68.5" rx="2.6" ry="3.7" fill="none" stroke="#000" stroke-width="1.1"/>
<rect x="902.60" y="67.90" width="1.2" height="1.2" fill="#000"/>
<ellipse cx="833.2" cy="82.5" rx="2.6" ry="3.7" fill="none" stroke="#000" stroke-width="1.1"/>
<rect x="832.60" y="81.90" width="1.2" height="1.2" fill="#000"/>
<ellipse cx="843.2" cy="82.5" rx="2.6" ry="3.7" fill="none" stroke="#000" stroke-width="1.1"/>
<rect x="842.60" y="81.90" width="1.2" height="1.2" fill="#000"/>
<ellipse cx="853.2" cy="82.5" rx="2.6" ry="3.7" fill="none" stroke="#000" stroke-width="1.1"/>
<rect x="852.60" y="81.90" width="1.2" height="1.2" fill="#000"/>
<ellipse cx="863.2" cy="82.5" rx="2.6" ry="3.7" fill="none" stroke="#000" stroke-width="1.1"/>
<rect x="862.60" y="81.90" width="1.2" height="1.2" fill="#000"/>
<ellipse cx="873.2" cy="82.5" rx="2.6" ry="3.7" fill="none" stroke="#000" stroke-width="1.1"/>
<rect x="872.60" y="81.90" width="1.2" height="1.2" fill="#000"/>
<ellipse cx="883.2" cy="82.5" rx="2.6" ry="3.7" fill="none" stroke="#000" stroke-width="1.1"/>
<rect x="882.60" y="81.90" width="1.2" height="1.2" fill="#000"/>
<ellipse cx="893.2" cy="82.5" rx="2.6" ry="3.7" fill="none" stroke="#000" stroke-width="1.1"/>
<rect x="892.60" y="81.90" width="1.2" height="1.2" fill="#000"/>
<ellipse cx="903.2" cy="82.5" rx="2.6" ry="3.7" fill="none" stroke="#000" stroke-width="1.1"/>
<rect x="902.60" y="81.90" width="1.2" height="1.2" fill="#000"/>
<ellipse cx="833.2" cy="96.5" rx="2.6" ry="3.7" fill="none" stroke="#000" stroke-width="1.1"/>
<rect x="832.60" y="95.90" width="1.2" height="1.2" fill="#000"/>
<ellipse cx="843.2" cy="96.5" rx="2.6" ry="3.7" fill="none" stroke="#000" stroke-width="1.1"/>
<rect x="842.60" y="95.90" width="1.2" height="1.2" fill="#000"/>
<ellipse cx="853.2" cy="96.5" rx="2.6" ry="3.7" fill="none" stroke="#000" stroke-width="1.1"/>
<rect x="852.60" y="95.90" width="1.2" height="1.2" fill="#000"/>
<ellipse cx="863.2" cy="96.5" rx="2.6" ry="3.7" fill="none" stroke="#000" stroke-width="1.1"/>
<rect x="862.60" y="95.90" width="1.2" height="1.2" fill="#000"/>
<ellipse cx="873.2" cy="96.5" rx="2.6" ry="3.7" fill="none" stroke="#000" stroke-width="1.1"/>
<rect x="872.60" y="95.90" width="1.2" height="1.2" fill="#000"/>
<ellipse cx="883.2" cy="96.5" rx="2.6" ry="3.7" fill="none" stroke="#000" stroke-width="1.1"/>
<rect x="882.60" y="95.90" width="1.2" height="1.2" fill="#000"/>
<ellipse cx="893.2" cy="96.5" rx="2.6" ry="3.7" fill="none" stroke="#000" stroke-width="1.1"/>
<rect x="892.60" y="95.90" width="1.2" height="1.2" fill="#000"/>
<ellipse cx="903.2" cy="96.5" rx="2.6" ry="3.7" fill="none" stroke="#000" stroke-width="1.1"/>
<rect x="902.60" y="95.90" width="1.2" height="1.2" fill="#000"/>
<path d="M237,106 V165 H497 V285 H388" fill="none" stroke="#000" stroke-width="4" stroke-linecap="round" stroke-linejoin="round" transform="translate(0.5,0.5)"/>
<path d="M327,106 V155 H527 V305 H388" fill="none" stroke="#000" stroke-width="4" stroke-linecap="round" stroke-linejoin="round" transform="translate(0.5,0.5)"/>
<path d="M417,106 V145 H557 V325 H388" fill="none" stroke="#000" stroke-width="4" stroke-linecap="round" stroke-linejoin="round" transform="translate(0.5,0.5)"/>
<path d="M507,106 V135 H587 V345 H388" fill="none" stroke="#000" stroke-width="4" stroke-linecap="round" stroke-linejoin="round" transform="translate(0.5,0.5)"/>
<path d="M597,106 V125 H617 V365 H388" fill="none" stroke="#000" stroke-width="4" stroke-linecap="round" stroke-linejoin="round" transform="translate(0.5,0.5)"/>
<path d="M687,106 V135 H647 V385 H388" fill="none" stroke="#000" stroke-width="4" stroke-linecap="round" stroke-linejoin="round" transform="translate(0.5,0.5)"/>
<path d="M777,106 V145 H677 V405 H388" fill="none" stroke="#000" stroke-width="4" stroke-linecap="round" stroke-linejoin="round" transform="translate(0.5,0.5)"/>
<path d="M867,106 V165 H707 V425 H388" fill="none" stroke="#000" stroke-width="4" stroke-linecap="round" stroke-linejoin="round" transform="translate(0.5,0.5)"/>
<path d="M340.5,218.5 H494.5 V242 H427 L417,245.5 L407,242 H340.5 Z" fill="none" stroke="#000" stroke-width="2"/>
<text transform="scale(1.1000,1)" x="311.02 322.78 329.47 339.67 350.36 356.96 367.09 380.95 392.69 402.87 413.22 424.24 430.28 440.7" y="235.5" font-family="'Liberation Sans', sans-serif" font-size="17" font-weight="normal" fill="#000" stroke="#000" stroke-width="0.4">ProgramCounter</text>
<path d="M417,245 V265 H388" fill="none" stroke="#000" stroke-width="4" stroke-linecap="round" stroke-linejoin="round" transform="translate(0.5,0.5)"/>
<circle cx="417.5" cy="245" r="2.6" fill="#000"/>
<rect x="187.5" y="255.5" width="200" height="200" fill="none" stroke="#000" stroke-width="2"/>
<rect x="187" y="435" width="201" height="21.5" fill="#000"/>
<text x="244.1 252.0 259.9 267.8 275.7 283.6 291.5 299.4 307.3 315.2 323.1" y="449" font-family="'Liberation Mono', monospace" font-size="13" font-weight="bold" fill="#fff" >cpu_harness</text>
<text x="192.78 199.65 206.52 213.39 220.26 227.13 234.0 240.87 247.74 254.61 261.48" y="268.8" font-family="'Liberation Mono', monospace" font-size="11.5" font-weight="normal" fill="#222" >Instruction</text>
<text x="192.78 199.65 206.52" y="288.6" font-family="'Liberation Mono', monospace" font-size="11.5" font-weight="normal" fill="#222" >clk</text>
<text x="305.41 312.28 319.15 326.02 332.89 339.76 346.63 353.5 360.37 367.24 374.11" y="268.8" font-family="'Liberation Mono', monospace" font-size="11.5" font-weight="normal" fill="#222" >ProgramCo..</text>
<text x="368.24 375.11" y="288.8" font-family="'Liberation Mono', monospace" font-size="11.5" font-weight="normal" fill="#222" >ra</text>
<text x="368.24 375.11" y="308.8" font-family="'Liberation Mono', monospace" font-size="11.5" font-weight="normal" fill="#222" >sp</text>
<text x="368.24 375.11" y="328.8" font-family="'Liberation Mono', monospace" font-size="11.5" font-weight="normal" fill="#222" >t0</text>
<text x="368.24 375.11" y="348.8" font-family="'Liberation Mono', monospace" font-size="11.5" font-weight="normal" fill="#222" >t1</text>
<text x="368.24 375.11" y="368.8" font-family="'Liberation Mono', monospace" font-size="11.5" font-weight="normal" fill="#222" >t2</text>
<text x="368.24 375.11" y="388.8" font-family="'Liberation Mono', monospace" font-size="11.5" font-weight="normal" fill="#222" >s0</text>
<text x="368.24 375.11" y="408.8" font-family="'Liberation Mono', monospace" font-size="11.5" font-weight="normal" fill="#222" >s1</text>
<text x="368.24 375.11" y="428.8" font-family="'Liberation Mono', monospace" font-size="11.5" font-weight="normal" fill="#222" >a0</text>
<rect x="388" y="263" width="10" height="4" fill="#000"/>
<rect x="388" y="283" width="10" height="4" fill="#000"/>
<rect x="388" y="303" width="10" height="4" fill="#000"/>
<rect x="388" y="323" width="10" height="4" fill="#000"/>
<rect x="388" y="343" width="10" height="4" fill="#000"/>
<rect x="388" y="363" width="10" height="4" fill="#000"/>
<rect x="388" y="383" width="10" height="4" fill="#000"/>
<rect x="388" y="403" width="10" height="4" fill="#000"/>
<rect x="388" y="423" width="10" height="4" fill="#000"/>
<circle cx="287.5" cy="355.5" r="9" fill="#f0f0fc" stroke="#888" stroke-width="1.2"/>
<path d="M292.2,363.6 L296.6,360 L302,367.6 L299.6,370 Z" fill="#808080"/>
<rect x="287" y="355" width="1" height="1" fill="#777"/>
<path d="M11.5,253.5 H114.5 L117.5,265 L114.5,278 H11.5 Z" fill="none" stroke="#000" stroke-width="2"/>
<text transform="scale(1.1000,1)" x="13.8 19.32 29.3 38.99 45.59 52.46 62.42 72.1 78.54 83.19 93.37" y="270.8" font-family="'Liberation Sans', sans-serif" font-size="17" font-weight="normal" fill="#000" stroke="#000" stroke-width="0.4">Instruction</text>
<path d="M117,265 H177" fill="none" stroke="#000" stroke-width="4" stroke-linecap="round" stroke-linejoin="round" transform="translate(0.5,0.5)"/>
<rect x="176" y="263" width="12" height="4" fill="#000"/>
<circle cx="117.5" cy="265.5" r="2.6" fill="#000"/>
<path d="M24.5,283.5 H55 L57.5,295 L55,308 H24.5 Z" fill="none" stroke="#000" stroke-width="2"/>
<text transform="scale(1.1000,1)" x="24.61 33.77 38.74" y="300.8" font-family="'Liberation Sans', sans-serif" font-size="17" font-weight="normal" fill="#000" stroke="#000" stroke-width="0.4">clk</text>
<path d="M57,295 H127 V285 H177" fill="none" stroke="#006400" stroke-width="3" stroke-linecap="round" stroke-linejoin="round" transform="translate(0.5,0.5)"/>
<rect x="177" y="284" width="11" height="3" fill="#000"/>
<circle cx="57.8" cy="295.5" r="2" fill="#006400"/>
<circle cx="177.5" cy="285" r="2" fill="#006400"/>
<text transform="scale(1.1000,1)" x="488.54 495.18 508.3 520.82 528.81 537.37 550.8 563.63 571.52 577.06 590.48 604.1 610.1 629.38 643.15 663.58 677.3 686.09" y="577.8" font-family="'Liberation Sans', sans-serif" font-size="24.2" font-weight="normal" fill="#000" >Instruction Memory</text>
<path d="M191.5,593.5 H344.5 L348,605 L344.5,618.5 H191.5 Z" fill="none" stroke="#000" stroke-width="2"/>
<text transform="scale(1.1000,1)" x="175.57 187.33 194.01 204.21 214.9 221.5 231.63 245.49 257.24 267.41 277.77 288.79 294.83 305.25" y="611" font-family="'Liberation Sans', sans-serif" font-size="17" font-weight="normal" fill="#000" stroke="#000" stroke-width="0.4">ProgramCounter</text>
<circle cx="348" cy="605.5" r="2.5" fill="#000"/>
<path d="M348.5,605.5 H527.5 L532.5,610.5" fill="none" stroke="#000" stroke-width="4" stroke-linecap="round" stroke-linejoin="round"/>
<path d="M357,605 V705" fill="none" stroke="#000" stroke-width="4" stroke-linecap="round" stroke-linejoin="round" transform="translate(0.5,0.5)"/>
<path d="M336,705 H393" fill="none" stroke="#000" stroke-width="4" stroke-linecap="round" stroke-linejoin="round" transform="translate(0.5,0.5)"/>
<circle cx="357.5" cy="605.5" r="5.5" fill="#000"/>
<circle cx="357.5" cy="705.5" r="5.5" fill="#000"/>
<rect x="366" y="603" width="10" height="5" fill="#000"/>
<circle cx="373.3" cy="603.5" r="2.8" fill="#000"/>
<text x="376.5" y="601.8" font-family="'Liberation Sans', sans-serif" font-size="7" font-weight="bold" fill="#000" text-anchor="start" textLength="14.5" lengthAdjust="spacingAndGlyphs" >15-2</text>
<path d="M532.5,610.5 V631.5" stroke="#000" stroke-width="3.4" fill="none"/>
<path d="M532.5,611 L537,615 H547.5 M532.5,631.5 L537,635 H547.5" stroke="#000" stroke-width="2" fill="none"/>
<path d="M542.5,617 V634" stroke="#000" stroke-width="2" stroke-dasharray="3.5,3" fill="none"/>
<circle cx="527.5" cy="605.5" r="2.4" fill="#000"/>
<path d="M557.5,655.5 V645.5 H547.5 V595.5 H747.5 V645.5 H737.5 V655.5" fill="none" stroke="#000" stroke-width="2"/>
<text transform="scale(1.1000,1)" x="549.57 557.2 565.74 575.26 578.78 585.6 591.89 599.35 602.96 609.11 612.63 619.46" y="606.7" font-family="'Liberation Sans', sans-serif" font-size="11.5" font-weight="normal" fill="#000" >ROM 16K x 32</text>
<text x="549.7" y="620.9" font-family="'Liberation Sans', sans-serif" font-size="12" font-weight="normal" fill="#000" text-anchor="start" textLength="6.3" lengthAdjust="spacingAndGlyphs" >0</text>
<text transform="scale(1.1000,1)" x="499.22 506.17" y="640.8" font-family="'Liberation Sans', sans-serif" font-size="12" font-weight="normal" fill="#000" >13</text>
<path d="M567.1,610.2 L572.4,615.2 V622.7 L575.6,625.2 L572.4,628.4 V635.5 L567.1,640.4" fill="none" stroke="#000" stroke-width="1.3"/>
<text x="577.1" y="630.8" font-family="'Liberation Sans', sans-serif" font-size="12" font-weight="normal" fill="#000" text-anchor="start" textLength="7.8" lengthAdjust="spacingAndGlyphs" >A</text>
<path d="M587,625.2 H628" stroke="#000" stroke-width="1.3"/>
<text x="603.7" y="620.9" font-family="'Liberation Sans', sans-serif" font-size="12" font-weight="normal" fill="#000" text-anchor="start" textLength="6.4" lengthAdjust="spacingAndGlyphs" >0</text>
<text transform="scale(1.1000,1)" x="533.77 540.71 547.65 554.59 561.53" y="638" font-family="'Liberation Sans', sans-serif" font-size="12" font-weight="normal" fill="#000" >16383</text>
<text transform="scale(1.1000,1)" x="453.53 465.46 475.6 485.98 496.09 505.83 515.5 521.57 531.71 541.61 553.38 563.79 574.46 581.1 590.83 599.49" y="711.5" font-family="'Liberation Sans', sans-serif" font-size="16.8" font-weight="normal" fill="#0000ff" stroke="#0000ff" stroke-width="0.45">RequestedAddress</text>
<text transform="scale(1.1000,1)" x="571.62 583.55 593.69 604.07 614.18 623.92 633.59 639.66 649.8 660.05 665.59 675.57 685.24 691.84 698.73 708.69 718.35 724.79 729.47 739.64" y="761.8" font-family="'Liberation Sans', sans-serif" font-size="16.8" font-weight="normal" fill="#0000ff" stroke="#0000ff" stroke-width="0.45">RequestedInstruction</text>
<path d="M547.5,960 V655.5 H747.5 V960" fill="none" stroke="#000" stroke-width="2"/>
<path d="M547.5,675 H747.5" stroke="#000" stroke-width="2.6"/>
<text x="741" y="670" font-family="'Liberation Sans', sans-serif" font-size="9.8" font-weight="normal" fill="#000" text-anchor="middle" textLength="6.8" lengthAdjust="spacingAndGlyphs" stroke="#000" stroke-width="0.25">A</text>
<path d="M747.5,665 H757.3 L761,662" fill="none" stroke="#000" stroke-width="2"/>
<text x="750.9" y="661.8" font-family="'Liberation Sans', sans-serif" font-size="6.5" font-weight="bold" fill="#000" text-anchor="start" textLength="3.2" lengthAdjust="spacingAndGlyphs" >0</text>
<path d="M547.5,695 H747.5" stroke="#000" stroke-width="2.6"/>
<text x="741" y="690" font-family="'Liberation Sans', sans-serif" font-size="9.8" font-weight="normal" fill="#000" text-anchor="middle" textLength="6.8" lengthAdjust="spacingAndGlyphs" stroke="#000" stroke-width="0.25">A</text>
<path d="M747.5,685 H757.3 L761,682" fill="none" stroke="#000" stroke-width="2"/>
<text x="750.9" y="681.8" font-family="'Liberation Sans', sans-serif" font-size="6.5" font-weight="bold" fill="#000" text-anchor="start" textLength="3.2" lengthAdjust="spacingAndGlyphs" >1</text>
<path d="M547.5,715 H747.5" stroke="#000" stroke-width="2.6"/>
<text x="741" y="710" font-family="'Liberation Sans', sans-serif" font-size="9.8" font-weight="normal" fill="#000" text-anchor="middle" textLength="6.8" lengthAdjust="spacingAndGlyphs" stroke="#000" stroke-width="0.25">A</text>
<path d="M747.5,705 H757.3 L761,702" fill="none" stroke="#000" stroke-width="2"/>
<text x="750.9" y="701.8" font-family="'Liberation Sans', sans-serif" font-size="6.5" font-weight="bold" fill="#000" text-anchor="start" textLength="3.2" lengthAdjust="spacingAndGlyphs" >2</text>
<path d="M547.5,735 H747.5" stroke="#000" stroke-width="2.6"/>
<text x="741" y="730" font-family="'Liberation Sans', sans-serif" font-size="9.8" font-weight="normal" fill="#000" text-anchor="middle" textLength="6.8" lengthAdjust="spacingAndGlyphs" stroke="#000" stroke-width="0.25">A</text>
<path d="M747.5,725 H757.3 L761,722" fill="none" stroke="#000" stroke-width="2"/>
<text x="750.9" y="721.8" font-family="'Liberation Sans', sans-serif" font-size="6.5" font-weight="bold" fill="#000" text-anchor="start" textLength="3.2" lengthAdjust="spacingAndGlyphs" >3</text>
<path d="M547.5,755 H747.5" stroke="#000" stroke-width="2.6"/>
<text x="741" y="750" font-family="'Liberation Sans', sans-serif" font-size="9.8" font-weight="normal" fill="#000" text-anchor="middle" textLength="6.8" lengthAdjust="spacingAndGlyphs" stroke="#000" stroke-width="0.25">A</text>
<path d="M747.5,745 H757.3 L761,742" fill="none" stroke="#000" stroke-width="2"/>
<text x="750.9" y="741.8" font-family="'Liberation Sans', sans-serif" font-size="6.5" font-weight="bold" fill="#000" text-anchor="start" textLength="3.2" lengthAdjust="spacingAndGlyphs" >4</text>
<path d="M547.5,775 H747.5" stroke="#000" stroke-width="2.6"/>
<text x="741" y="770" font-family="'Liberation Sans', sans-serif" font-size="9.8" font-weight="normal" fill="#000" text-anchor="middle" textLength="6.8" lengthAdjust="spacingAndGlyphs" stroke="#000" stroke-width="0.25">A</text>
<path d="M747.5,765 H757.3 L761,762" fill="none" stroke="#000" stroke-width="2"/>
<text x="750.9" y="761.8" font-family="'Liberation Sans', sans-serif" font-size="6.5" font-weight="bold" fill="#000" text-anchor="start" textLength="3.2" lengthAdjust="spacingAndGlyphs" >5</text>
<path d="M547.5,795 H747.5" stroke="#000" stroke-width="2.6"/>
<text x="741" y="790" font-family="'Liberation Sans', sans-serif" font-size="9.8" font-weight="normal" fill="#000" text-anchor="middle" textLength="6.8" lengthAdjust="spacingAndGlyphs" stroke="#000" stroke-width="0.25">A</text>
<path d="M747.5,785 H757.3 L761,782" fill="none" stroke="#000" stroke-width="2"/>
<text x="750.9" y="781.8" font-family="'Liberation Sans', sans-serif" font-size="6.5" font-weight="bold" fill="#000" text-anchor="start" textLength="3.2" lengthAdjust="spacingAndGlyphs" >6</text>
<path d="M547.5,815 H747.5" stroke="#000" stroke-width="2.6"/>
<text x="741" y="810" font-family="'Liberation Sans', sans-serif" font-size="9.8" font-weight="normal" fill="#000" text-anchor="middle" textLength="6.8" lengthAdjust="spacingAndGlyphs" stroke="#000" stroke-width="0.25">A</text>
<path d="M747.5,805 H757.3 L761,802" fill="none" stroke="#000" stroke-width="2"/>
<text x="750.9" y="801.8" font-family="'Liberation Sans', sans-serif" font-size="6.5" font-weight="bold" fill="#000" text-anchor="start" textLength="3.2" lengthAdjust="spacingAndGlyphs" >7</text>
<path d="M547.5,835 H747.5" stroke="#000" stroke-width="2.6"/>
<text x="741" y="830" font-family="'Liberation Sans', sans-serif" font-size="9.8" font-weight="normal" fill="#000" text-anchor="middle" textLength="6.8" lengthAdjust="spacingAndGlyphs" stroke="#000" stroke-width="0.25">A</text>
<path d="M747.5,825 H757.3 L761,822" fill="none" stroke="#000" stroke-width="2"/>
<text x="750.9" y="821.8" font-family="'Liberation Sans', sans-serif" font-size="6.5" font-weight="bold" fill="#000" text-anchor="start" textLength="3.2" lengthAdjust="spacingAndGlyphs" >8</text>
<path d="M547.5,855 H747.5" stroke="#000" stroke-width="2.6"/>
<text x="741" y="850" font-family="'Liberation Sans', sans-serif" font-size="9.8" font-weight="normal" fill="#000" text-anchor="middle" textLength="6.8" lengthAdjust="spacingAndGlyphs" stroke="#000" stroke-width="0.25">A</text>
<path d="M747.5,845 H757.3 L761,842" fill="none" stroke="#000" stroke-width="2"/>
<text x="750.9" y="841.8" font-family="'Liberation Sans', sans-serif" font-size="6.5" font-weight="bold" fill="#000" text-anchor="start" textLength="3.2" lengthAdjust="spacingAndGlyphs" >9</text>
<path d="M547.5,875 H747.5" stroke="#000" stroke-width="2.6"/>
<text x="741" y="870" font-family="'Liberation Sans', sans-serif" font-size="9.8" font-weight="normal" fill="#000" text-anchor="middle" textLength="6.8" lengthAdjust="spacingAndGlyphs" stroke="#000" stroke-width="0.25">A</text>
<path d="M747.5,865 H757.3 L761,862" fill="none" stroke="#000" stroke-width="2"/>
<text x="750.9" y="861.8" font-family="'Liberation Sans', sans-serif" font-size="6.5" font-weight="bold" fill="#000" text-anchor="start" textLength="7" lengthAdjust="spacingAndGlyphs" >10</text>
<path d="M547.5,895 H747.5" stroke="#000" stroke-width="2.6"/>
<text x="741" y="890" font-family="'Liberation Sans', sans-serif" font-size="9.8" font-weight="normal" fill="#000" text-anchor="middle" textLength="6.8" lengthAdjust="spacingAndGlyphs" stroke="#000" stroke-width="0.25">A</text>
<path d="M747.5,885 H757.3 L761,882" fill="none" stroke="#000" stroke-width="2"/>
<text x="750.9" y="881.8" font-family="'Liberation Sans', sans-serif" font-size="6.5" font-weight="bold" fill="#000" text-anchor="start" textLength="7" lengthAdjust="spacingAndGlyphs" >11</text>
<path d="M547.5,915 H747.5" stroke="#000" stroke-width="2.6"/>
<text x="741" y="910" font-family="'Liberation Sans', sans-serif" font-size="9.8" font-weight="normal" fill="#000" text-anchor="middle" textLength="6.8" lengthAdjust="spacingAndGlyphs" stroke="#000" stroke-width="0.25">A</text>
<path d="M747.5,905 H757.3 L761,902" fill="none" stroke="#000" stroke-width="2"/>
<text x="750.9" y="901.8" font-family="'Liberation Sans', sans-serif" font-size="6.5" font-weight="bold" fill="#000" text-anchor="start" textLength="7" lengthAdjust="spacingAndGlyphs" >12</text>
<path d="M547.5,935 H747.5" stroke="#000" stroke-width="2.6"/>
<text x="741" y="930" font-family="'Liberation Sans', sans-serif" font-size="9.8" font-weight="normal" fill="#000" text-anchor="middle" textLength="6.8" lengthAdjust="spacingAndGlyphs" stroke="#000" stroke-width="0.25">A</text>
<path d="M747.5,925 H757.3 L761,922" fill="none" stroke="#000" stroke-width="2"/>
<text x="750.9" y="921.8" font-family="'Liberation Sans', sans-serif" font-size="6.5" font-weight="bold" fill="#000" text-anchor="start" textLength="7" lengthAdjust="spacingAndGlyphs" >13</text>
<path d="M547.5,955 H747.5" stroke="#000" stroke-width="2.6"/>
<text x="741" y="950" font-family="'Liberation Sans', sans-serif" font-size="9.8" font-weight="normal" fill="#000" text-anchor="middle" textLength="6.8" lengthAdjust="spacingAndGlyphs" stroke="#000" stroke-width="0.25">A</text>
<path d="M747.5,945 H757.3 L761,942" fill="none" stroke="#000" stroke-width="2"/>
<text x="750.9" y="941.8" font-family="'Liberation Sans', sans-serif" font-size="6.5" font-weight="bold" fill="#000" text-anchor="start" textLength="7" lengthAdjust="spacingAndGlyphs" >14</text>
<path d="M762.5,960 V660.5 L767.5,655.5 H1008.5" fill="none" stroke="#000" stroke-width="4" stroke-linecap="round" stroke-linejoin="round"/>
<circle cx="767.5" cy="655.5" r="2.6" fill="#000"/>
<circle cx="977.5" cy="655.5" r="5.5" fill="#000"/>
<path d="M393.5,666.5 H487.5 L497.5,705.3 L487.5,744.3 H393.5 Z" fill="none" stroke="#000" stroke-width="2"/>
<ellipse cx="407.9" cy="673.3" rx="2.7" ry="3.9" fill="none" stroke="#000" stroke-width="1.05"/>
<rect x="407.30" y="672.70" width="1.2" height="1.2" fill="#000"/>
<ellipse cx="417.9" cy="673.3" rx="2.7" ry="3.9" fill="none" stroke="#000" stroke-width="1.05"/>
<rect x="417.30" y="672.70" width="1.2" height="1.2" fill="#000"/>
<ellipse cx="427.9" cy="673.3" rx="2.7" ry="3.9" fill="none" stroke="#000" stroke-width="1.05"/>
<rect x="427.30" y="672.70" width="1.2" height="1.2" fill="#000"/>
<ellipse cx="437.9" cy="673.3" rx="2.7" ry="3.9" fill="none" stroke="#000" stroke-width="1.05"/>
<rect x="437.30" y="672.70" width="1.2" height="1.2" fill="#000"/>
<ellipse cx="447.9" cy="673.3" rx="2.7" ry="3.9" fill="none" stroke="#000" stroke-width="1.05"/>
<rect x="447.30" y="672.70" width="1.2" height="1.2" fill="#000"/>
<ellipse cx="457.9" cy="673.3" rx="2.7" ry="3.9" fill="none" stroke="#000" stroke-width="1.05"/>
<rect x="457.30" y="672.70" width="1.2" height="1.2" fill="#000"/>
<ellipse cx="467.9" cy="673.3" rx="2.7" ry="3.9" fill="none" stroke="#000" stroke-width="1.05"/>
<rect x="467.30" y="672.70" width="1.2" height="1.2" fill="#000"/>
<ellipse cx="477.9" cy="673.3" rx="2.7" ry="3.9" fill="none" stroke="#000" stroke-width="1.05"/>
<rect x="477.30" y="672.70" width="1.2" height="1.2" fill="#000"/>
<ellipse cx="407.9" cy="693.3" rx="2.7" ry="3.9" fill="none" stroke="#000" stroke-width="1.05"/>
<rect x="407.30" y="692.70" width="1.2" height="1.2" fill="#000"/>
<ellipse cx="417.9" cy="693.3" rx="2.7" ry="3.9" fill="none" stroke="#000" stroke-width="1.05"/>
<rect x="417.30" y="692.70" width="1.2" height="1.2" fill="#000"/>
<ellipse cx="427.9" cy="693.3" rx="2.7" ry="3.9" fill="none" stroke="#000" stroke-width="1.05"/>
<rect x="427.30" y="692.70" width="1.2" height="1.2" fill="#000"/>
<ellipse cx="437.9" cy="693.3" rx="2.7" ry="3.9" fill="none" stroke="#000" stroke-width="1.05"/>
<rect x="437.30" y="692.70" width="1.2" height="1.2" fill="#000"/>
<ellipse cx="447.9" cy="693.3" rx="2.7" ry="3.9" fill="none" stroke="#000" stroke-width="1.05"/>
<rect x="447.30" y="692.70" width="1.2" height="1.2" fill="#000"/>
<ellipse cx="457.9" cy="693.3" rx="2.7" ry="3.9" fill="none" stroke="#000" stroke-width="1.05"/>
<rect x="457.30" y="692.70" width="1.2" height="1.2" fill="#000"/>
<ellipse cx="467.9" cy="693.3" rx="2.7" ry="3.9" fill="none" stroke="#000" stroke-width="1.05"/>
<rect x="467.30" y="692.70" width="1.2" height="1.2" fill="#000"/>
<ellipse cx="477.9" cy="693.3" rx="2.7" ry="3.9" fill="none" stroke="#000" stroke-width="1.05"/>
<rect x="477.30" y="692.70" width="1.2" height="1.2" fill="#000"/>
<ellipse cx="407.9" cy="713.3" rx="2.7" ry="3.9" fill="none" stroke="#000" stroke-width="1.05"/>
<rect x="407.30" y="712.70" width="1.2" height="1.2" fill="#000"/>
<ellipse cx="417.9" cy="713.3" rx="2.7" ry="3.9" fill="none" stroke="#000" stroke-width="1.05"/>
<rect x="417.30" y="712.70" width="1.2" height="1.2" fill="#000"/>
<ellipse cx="427.9" cy="713.3" rx="2.7" ry="3.9" fill="none" stroke="#000" stroke-width="1.05"/>
<rect x="427.30" y="712.70" width="1.2" height="1.2" fill="#000"/>
<ellipse cx="437.9" cy="713.3" rx="2.7" ry="3.9" fill="none" stroke="#000" stroke-width="1.05"/>
<rect x="437.30" y="712.70" width="1.2" height="1.2" fill="#000"/>
<ellipse cx="447.9" cy="713.3" rx="2.7" ry="3.9" fill="none" stroke="#000" stroke-width="1.05"/>
<rect x="447.30" y="712.70" width="1.2" height="1.2" fill="#000"/>
<ellipse cx="457.9" cy="713.3" rx="2.7" ry="3.9" fill="none" stroke="#000" stroke-width="1.05"/>
<rect x="457.30" y="712.70" width="1.2" height="1.2" fill="#000"/>
<ellipse cx="467.9" cy="713.3" rx="2.7" ry="3.9" fill="none" stroke="#000" stroke-width="1.05"/>
<rect x="467.30" y="712.70" width="1.2" height="1.2" fill="#000"/>
<ellipse cx="477.9" cy="713.3" rx="2.7" ry="3.9" fill="none" stroke="#000" stroke-width="1.05"/>
<rect x="477.30" y="712.70" width="1.2" height="1.2" fill="#000"/>
<ellipse cx="407.9" cy="733.3" rx="2.7" ry="3.9" fill="none" stroke="#000" stroke-width="1.05"/>
<rect x="407.30" y="732.70" width="1.2" height="1.2" fill="#000"/>
<ellipse cx="417.9" cy="733.3" rx="2.7" ry="3.9" fill="none" stroke="#000" stroke-width="1.05"/>
<rect x="417.30" y="732.70" width="1.2" height="1.2" fill="#000"/>
<ellipse cx="427.9" cy="733.3" rx="2.7" ry="3.9" fill="none" stroke="#000" stroke-width="1.05"/>
<rect x="427.30" y="732.70" width="1.2" height="1.2" fill="#000"/>
<ellipse cx="437.9" cy="733.3" rx="2.7" ry="3.9" fill="none" stroke="#000" stroke-width="1.05"/>
<rect x="437.30" y="732.70" width="1.2" height="1.2" fill="#000"/>
<ellipse cx="447.9" cy="733.3" rx="2.7" ry="3.9" fill="none" stroke="#000" stroke-width="1.05"/>
<rect x="447.30" y="732.70" width="1.2" height="1.2" fill="#000"/>
<ellipse cx="457.9" cy="733.3" rx="2.7" ry="3.9" fill="none" stroke="#000" stroke-width="1.05"/>
<rect x="457.30" y="732.70" width="1.2" height="1.2" fill="#000"/>
<ellipse cx="467.9" cy="733.3" rx="2.7" ry="3.9" fill="none" stroke="#000" stroke-width="1.05"/>
<rect x="467.30" y="732.70" width="1.2" height="1.2" fill="#000"/>
<ellipse cx="477.9" cy="733.3" rx="2.7" ry="3.9" fill="none" stroke="#000" stroke-width="1.05"/>
<rect x="477.30" y="732.70" width="1.2" height="1.2" fill="#000"/>
<text x="484.7" y="741" font-family="'Liberation Sans', sans-serif" font-size="9" font-weight="bold" fill="#0000ff" text-anchor="middle" >b</text>
<path d="M932.5,716 H838 L828.2,755 L838,794.3 H932.5 Z" fill="none" stroke="#000" stroke-width="2"/>
<ellipse cx="847.6" cy="723.5" rx="2.7" ry="3.9" fill="none" stroke="#000" stroke-width="1.05"/>
<rect x="847.00" y="722.90" width="1.2" height="1.2" fill="#000"/>
<ellipse cx="857.8000000000001" cy="723.5" rx="2.7" ry="3.9" fill="none" stroke="#000" stroke-width="1.05"/>
<rect x="857.20" y="722.90" width="1.2" height="1.2" fill="#000"/>
<ellipse cx="868.0" cy="723.5" rx="2.7" ry="3.9" fill="none" stroke="#000" stroke-width="1.05"/>
<rect x="867.40" y="722.90" width="1.2" height="1.2" fill="#000"/>
<ellipse cx="878.2" cy="723.5" rx="2.7" ry="3.9" fill="none" stroke="#000" stroke-width="1.05"/>
<rect x="877.60" y="722.90" width="1.2" height="1.2" fill="#000"/>
<ellipse cx="888.4" cy="723.5" rx="2.7" ry="3.9" fill="none" stroke="#000" stroke-width="1.05"/>
<rect x="887.80" y="722.90" width="1.2" height="1.2" fill="#000"/>
<ellipse cx="898.6" cy="723.5" rx="2.7" ry="3.9" fill="none" stroke="#000" stroke-width="1.05"/>
<rect x="898.00" y="722.90" width="1.2" height="1.2" fill="#000"/>
<ellipse cx="908.8000000000001" cy="723.5" rx="2.7" ry="3.9" fill="none" stroke="#000" stroke-width="1.05"/>
<rect x="908.20" y="722.90" width="1.2" height="1.2" fill="#000"/>
<ellipse cx="919.0" cy="723.5" rx="2.7" ry="3.9" fill="none" stroke="#000" stroke-width="1.05"/>
<rect x="918.40" y="722.90" width="1.2" height="1.2" fill="#000"/>
<ellipse cx="847.6" cy="743.5" rx="2.7" ry="3.9" fill="none" stroke="#000" stroke-width="1.05"/>
<rect x="847.00" y="742.90" width="1.2" height="1.2" fill="#000"/>
<ellipse cx="857.8000000000001" cy="743.5" rx="2.7" ry="3.9" fill="none" stroke="#000" stroke-width="1.05"/>
<rect x="857.20" y="742.90" width="1.2" height="1.2" fill="#000"/>
<ellipse cx="868.0" cy="743.5" rx="2.7" ry="3.9" fill="none" stroke="#000" stroke-width="1.05"/>
<rect x="867.40" y="742.90" width="1.2" height="1.2" fill="#000"/>
<path d="M876.00,740.90 L878.50,739.30 V747.70 M875.40,747.20 H881.40" fill="none" stroke="#000" stroke-width="1.1"/>
<ellipse cx="888.4" cy="743.5" rx="2.7" ry="3.9" fill="none" stroke="#000" stroke-width="1.05"/>
<rect x="887.80" y="742.90" width="1.2" height="1.2" fill="#000"/>
<ellipse cx="898.6" cy="743.5" rx="2.7" ry="3.9" fill="none" stroke="#000" stroke-width="1.05"/>
<rect x="898.00" y="742.90" width="1.2" height="1.2" fill="#000"/>
<ellipse cx="908.8000000000001" cy="743.5" rx="2.7" ry="3.9" fill="none" stroke="#000" stroke-width="1.05"/>
<rect x="908.20" y="742.90" width="1.2" height="1.2" fill="#000"/>
<ellipse cx="919.0" cy="743.5" rx="2.7" ry="3.9" fill="none" stroke="#000" stroke-width="1.05"/>
<rect x="918.40" y="742.90" width="1.2" height="1.2" fill="#000"/>
<ellipse cx="847.6" cy="763.5" rx="2.7" ry="3.9" fill="none" stroke="#000" stroke-width="1.05"/>
<rect x="847.00" y="762.90" width="1.2" height="1.2" fill="#000"/>
<ellipse cx="857.8000000000001" cy="763.5" rx="2.7" ry="3.9" fill="none" stroke="#000" stroke-width="1.05"/>
<rect x="857.20" y="762.90" width="1.2" height="1.2" fill="#000"/>
<ellipse cx="868.0" cy="763.5" rx="2.7" ry="3.9" fill="none" stroke="#000" stroke-width="1.05"/>
<rect x="867.40" y="762.90" width="1.2" height="1.2" fill="#000"/>
<ellipse cx="878.2" cy="763.5" rx="2.7" ry="3.9" fill="none" stroke="#000" stroke-width="1.05"/>
<rect x="877.60" y="762.90" width="1.2" height="1.2" fill="#000"/>
<ellipse cx="888.4" cy="763.5" rx="2.7" ry="3.9" fill="none" stroke="#000" stroke-width="1.05"/>
<rect x="887.80" y="762.90" width="1.2" height="1.2" fill="#000"/>
<ellipse cx="898.6" cy="763.5" rx="2.7" ry="3.9" fill="none" stroke="#000" stroke-width="1.05"/>
<rect x="898.00" y="762.90" width="1.2" height="1.2" fill="#000"/>
<path d="M906.60,760.90 L909.10,759.30 V767.70 M906.00,767.20 H912.00" fill="none" stroke="#000" stroke-width="1.1"/>
<ellipse cx="919.0" cy="763.5" rx="2.7" ry="3.9" fill="none" stroke="#000" stroke-width="1.05"/>
<rect x="918.40" y="762.90" width="1.2" height="1.2" fill="#000"/>
<path d="M845.40,780.90 L847.90,779.30 V787.70 M844.80,787.20 H850.80" fill="none" stroke="#000" stroke-width="1.1"/>
<ellipse cx="857.8000000000001" cy="783.5" rx="2.7" ry="3.9" fill="none" stroke="#000" stroke-width="1.05"/>
<rect x="857.20" y="782.90" width="1.2" height="1.2" fill="#000"/>
<ellipse cx="868.0" cy="783.5" rx="2.7" ry="3.9" fill="none" stroke="#000" stroke-width="1.05"/>
<rect x="867.40" y="782.90" width="1.2" height="1.2" fill="#000"/>
<path d="M876.00,780.90 L878.50,779.30 V787.70 M875.40,787.20 H881.40" fill="none" stroke="#000" stroke-width="1.1"/>
<ellipse cx="888.4" cy="783.5" rx="2.7" ry="3.9" fill="none" stroke="#000" stroke-width="1.05"/>
<rect x="887.80" y="782.90" width="1.2" height="1.2" fill="#000"/>
<ellipse cx="898.6" cy="783.5" rx="2.7" ry="3.9" fill="none" stroke="#000" stroke-width="1.05"/>
<rect x="898.00" y="782.90" width="1.2" height="1.2" fill="#000"/>
<path d="M906.60,780.90 L909.10,779.30 V787.70 M906.00,787.20 H912.00" fill="none" stroke="#000" stroke-width="1.1"/>
<path d="M916.80,780.90 L919.30,779.30 V787.70 M916.20,787.20 H922.20" fill="none" stroke="#000" stroke-width="1.1"/>
<text x="924.8" y="790.2" font-family="'Liberation Sans', sans-serif" font-size="9" font-weight="bold" fill="#0000ff" text-anchor="middle" >b</text>
<path d="M932.5,755 H998" fill="none" stroke="#000" stroke-width="4" stroke-linecap="round" stroke-linejoin="round" transform="translate(0.5,0.5)"/>
<path d="M977,655 V755" fill="none" stroke="#000" stroke-width="4" stroke-linecap="round" stroke-linejoin="round" transform="translate(0.5,0.5)"/>
<circle cx="977.5" cy="755.5" r="5.5" fill="#000"/>
<path d="M1113.5,643.5 H1011 L1008.2,655 L1011,668.5 H1113.5 Z" fill="none" stroke="#000" stroke-width="2"/>
<text transform="scale(1.1000,1)" x="920.53 926.04 936.03 945.72 952.32 959.18 969.15 978.83 985.27 989.92 1000.09" y="660.9" font-family="'Liberation Sans', sans-serif" font-size="17" font-weight="normal" fill="#000" stroke="#000" stroke-width="0.4">Instruction</text>
<circle cx="1008.5" cy="655.5" r="2.5" fill="#000"/>
<rect x="268.5" y="696.2" width="67.5" height="18" rx="9.0" ry="9.0" fill="#fff0a0" stroke="#b8b8c0" stroke-width="1"/>
<text transform="scale(1.1000,1)" x="246.32 253.26 260.2 267.14 274.08 281.02 287.96 294.9" y="708.8000000000001" font-family="'Liberation Sans', sans-serif" font-size="12" font-weight="normal" fill="#333" >00000000</text>
<circle cx="336.5" cy="705.5" r="2.2" fill="#000"/>
<rect x="998.5" y="746.8" width="68" height="17.5" rx="8.75" ry="8.75" fill="#fff0a0" stroke="#b8b8c0" stroke-width="1"/>
<text transform="scale(1.1000,1)" x="910.32 917.26 924.2 931.14 938.08 945.02 951.96 958.9" y="759.15" font-family="'Liberation Sans', sans-serif" font-size="12" font-weight="normal" fill="#333" >00100293</text>
<circle cx="998.5" cy="755.5" r="2.2" fill="#000"/>
<path d="M52.5,828.5 H83.5 V852.5 H77.5 L67,855.5 L57.5,852.5 H52.5 Z" fill="none" stroke="#000" stroke-width="2"/>
<text transform="scale(1.1000,1)" x="50.06 59.23 64.19" y="845.5" font-family="'Liberation Sans', sans-serif" font-size="17" font-weight="normal" fill="#000" stroke="#000" stroke-width="0.4">clk</text>
<path d="M67,855 V885" fill="none" stroke="#006400" stroke-width="3" stroke-linecap="round" stroke-linejoin="round" transform="translate(0.5,0.5)"/>
<circle cx="67.5" cy="855.5" r="2.2" fill="#006400"/>
<circle cx="67.5" cy="885.5" r="2.2" fill="#006400"/>
<rect x="57.5" y="885.5" width="20" height="20" fill="none" stroke="#000" stroke-width="2"/>
<path d="M61,893 V899.5 H67 V891.5 H74 V896.5" fill="none" stroke="#006400" stroke-width="2"/>
<rect x="593.2" y="660.1" width="108.5" height="300" fill="#c0c0c0"/>
<rect x="632.1" y="660.1" width="69.7" height="16.8" fill="#404040"/>
<path d="M633.7,676.9 V960 M701.3,660 V960" stroke="#555" stroke-width="1"/>
<text transform="scale(1.1000,1)" x="543.26 550.37 557.48 564.6" y="673.7" font-family="'Liberation Sans', sans-serif" font-size="12.2" font-weight="normal" fill="#000" >0000</text>
<text transform="scale(1.1000,1)" x="577.8 584.92 592.03 599.14 606.26 613.37 620.49 627.6" y="673.7" font-family="'Liberation Sans', sans-serif" font-size="12.2" font-weight="normal" fill="#fff" >00100293</text>
<text transform="scale(1.1000,1)" x="543.26 550.37 557.48 564.6" y="690.7" font-family="'Liberation Sans', sans-serif" font-size="12.2" font-weight="normal" fill="#000" >0001</text>
<text transform="scale(1.1000,1)" x="577.8 584.92 591.9 598.88 606.0 613.11 620.22 627.34" y="690.7" font-family="'Liberation Sans', sans-serif" font-size="12.2" font-weight="normal" fill="#000" >02a00293</text>
<text transform="scale(1.1000,1)" x="543.26 550.37 557.48 564.6" y="707.7" font-family="'Liberation Sans', sans-serif" font-size="12.2" font-weight="normal" fill="#000" >0002</text>
<text transform="scale(1.1000,1)" x="577.8 584.92 592.03 599.14 606.26 613.37 620.49 627.6" y="707.7" font-family="'Liberation Sans', sans-serif" font-size="12.2" font-weight="normal" fill="#000" >10000293</text>
<text transform="scale(1.1000,1)" x="543.26 550.37 557.48 564.6" y="724.7" font-family="'Liberation Sans', sans-serif" font-size="12.2" font-weight="normal" fill="#000" >0003</text>
<text transform="scale(1.1000,1)" x="581.8 589.02 592.96 596.79 603.9 611.02 618.13 625.25" y="724.7" font-family="'Liberation Sans', sans-serif" font-size="12.2" font-weight="normal" fill="#000" >7ff00293</text>
<text transform="scale(1.1000,1)" x="543.26 550.37 557.48 564.6" y="741.7" font-family="'Liberation Sans', sans-serif" font-size="12.2" font-weight="normal" fill="#000" >0004</text>
<text transform="scale(1.1000,1)" x="577.8 584.92 592.03 599.14 606.26 613.37 620.49 627.6" y="741.7" font-family="'Liberation Sans', sans-serif" font-size="12.2" font-weight="normal" fill="#000" >00000000</text>
<text transform="scale(1.1000,1)" x="543.26 550.37 557.48 564.6" y="758.7" font-family="'Liberation Sans', sans-serif" font-size="12.2" font-weight="normal" fill="#000" >0005</text>
<text transform="scale(1.1000,1)" x="577.8 584.92 592.03 599.14 606.26 613.37 620.49 627.6" y="758.7" font-family="'Liberation Sans', sans-serif" font-size="12.2" font-weight="normal" fill="#000" >00000000</text>
<text transform="scale(1.1000,1)" x="543.26 550.37 557.48 564.6" y="775.7" font-family="'Liberation Sans', sans-serif" font-size="12.2" font-weight="normal" fill="#000" >0006</text>
<text transform="scale(1.1000,1)" x="577.8 584.92 592.03 599.14 606.26 613.37 620.49 627.6" y="775.7" font-family="'Liberation Sans', sans-serif" font-size="12.2" font-weight="normal" fill="#000" >00000000</text>
<text transform="scale(1.1000,1)" x="543.26 550.37 557.48 564.6" y="792.7" font-family="'Liberation Sans', sans-serif" font-size="12.2" font-weight="normal" fill="#000" >0007</text>
<text transform="scale(1.1000,1)" x="577.8 584.92 592.03 599.14 606.26 613.37 620.49 627.6" y="792.7" font-family="'Liberation Sans', sans-serif" font-size="12.2" font-weight="normal" fill="#000" >00000000</text>
<text transform="scale(1.1000,1)" x="543.26 550.37 557.48 564.6" y="809.7" font-family="'Liberation Sans', sans-serif" font-size="12.2" font-weight="normal" fill="#000" >0008</text>
<text transform="scale(1.1000,1)" x="577.8 584.92 592.03 599.14 606.26 613.37 620.49 627.6" y="809.7" font-family="'Liberation Sans', sans-serif" font-size="12.2" font-weight="normal" fill="#000" >00000000</text>
<text transform="scale(1.1000,1)" x="543.26 550.37 557.48 564.6" y="826.7" font-family="'Liberation Sans', sans-serif" font-size="12.2" font-weight="normal" fill="#000" >0009</text>
<text transform="scale(1.1000,1)" x="577.8 584.92 592.03 599.14 606.26 613.37 620.49 627.6" y="826.7" font-family="'Liberation Sans', sans-serif" font-size="12.2" font-weight="normal" fill="#000" >00000000</text>
<text transform="scale(1.1000,1)" x="543.26 550.37 557.48 564.47" y="843.7" font-family="'Liberation Sans', sans-serif" font-size="12.2" font-weight="normal" fill="#000" >000a</text>
<text transform="scale(1.1000,1)" x="577.8 584.92 592.03 599.14 606.26 613.37 620.49 627.6" y="843.7" font-family="'Liberation Sans', sans-serif" font-size="12.2" font-weight="normal" fill="#000" >00000000</text>
<text transform="scale(1.1000,1)" x="543.26 550.37 557.48 564.59" y="860.7" font-family="'Liberation Sans', sans-serif" font-size="12.2" font-weight="normal" fill="#000" >000b</text>
<text transform="scale(1.1000,1)" x="577.8 584.92 592.03 599.14 606.26 613.37 620.49 627.6" y="860.7" font-family="'Liberation Sans', sans-serif" font-size="12.2" font-weight="normal" fill="#000" >00000000</text>
<text transform="scale(1.1000,1)" x="543.26 550.37 557.48 564.46" y="877.7" font-family="'Liberation Sans', sans-serif" font-size="12.2" font-weight="normal" fill="#000" >000c</text>
<text transform="scale(1.1000,1)" x="577.8 584.92 592.03 599.14 606.26 613.37 620.49 627.6" y="877.7" font-family="'Liberation Sans', sans-serif" font-size="12.2" font-weight="normal" fill="#000" >00000000</text>
<text transform="scale(1.1000,1)" x="543.26 550.37 557.48 564.59" y="894.7" font-family="'Liberation Sans', sans-serif" font-size="12.2" font-weight="normal" fill="#000" >000d</text>
<text transform="scale(1.1000,1)" x="577.8 584.92 592.03 599.14 606.26 613.37 620.49 627.6" y="894.7" font-family="'Liberation Sans', sans-serif" font-size="12.2" font-weight="normal" fill="#000" >00000000</text>
<text transform="scale(1.1000,1)" x="543.26 550.37 557.48 564.48" y="911.7" font-family="'Liberation Sans', sans-serif" font-size="12.2" font-weight="normal" fill="#000" >000e</text>
<text transform="scale(1.1000,1)" x="577.8 584.92 592.03 599.14 606.26 613.37 620.49 627.6" y="911.7" font-family="'Liberation Sans', sans-serif" font-size="12.2" font-weight="normal" fill="#000" >00000000</text>
<text transform="scale(1.1000,1)" x="543.26 550.37 557.48 564.71" y="928.7" font-family="'Liberation Sans', sans-serif" font-size="12.2" font-weight="normal" fill="#000" >000f</text>
<text transform="scale(1.1000,1)" x="577.8 584.92 592.03 599.14 606.26 613.37 620.49 627.6" y="928.7" font-family="'Liberation Sans', sans-serif" font-size="12.2" font-weight="normal" fill="#000" >00000000</text>
<text transform="scale(1.1000,1)" x="543.26 550.37 557.48 564.6" y="945.7" font-family="'Liberation Sans', sans-serif" font-size="12.2" font-weight="normal" fill="#000" >0010</text>
<text transform="scale(1.1000,1)" x="577.8 584.92 592.03 599.14 606.26 613.37 620.49 627.6" y="945.7" font-family="'Liberation Sans', sans-serif" font-size="12.2" font-weight="normal" fill="#000" >00000000</text>
</svg></body></html>
